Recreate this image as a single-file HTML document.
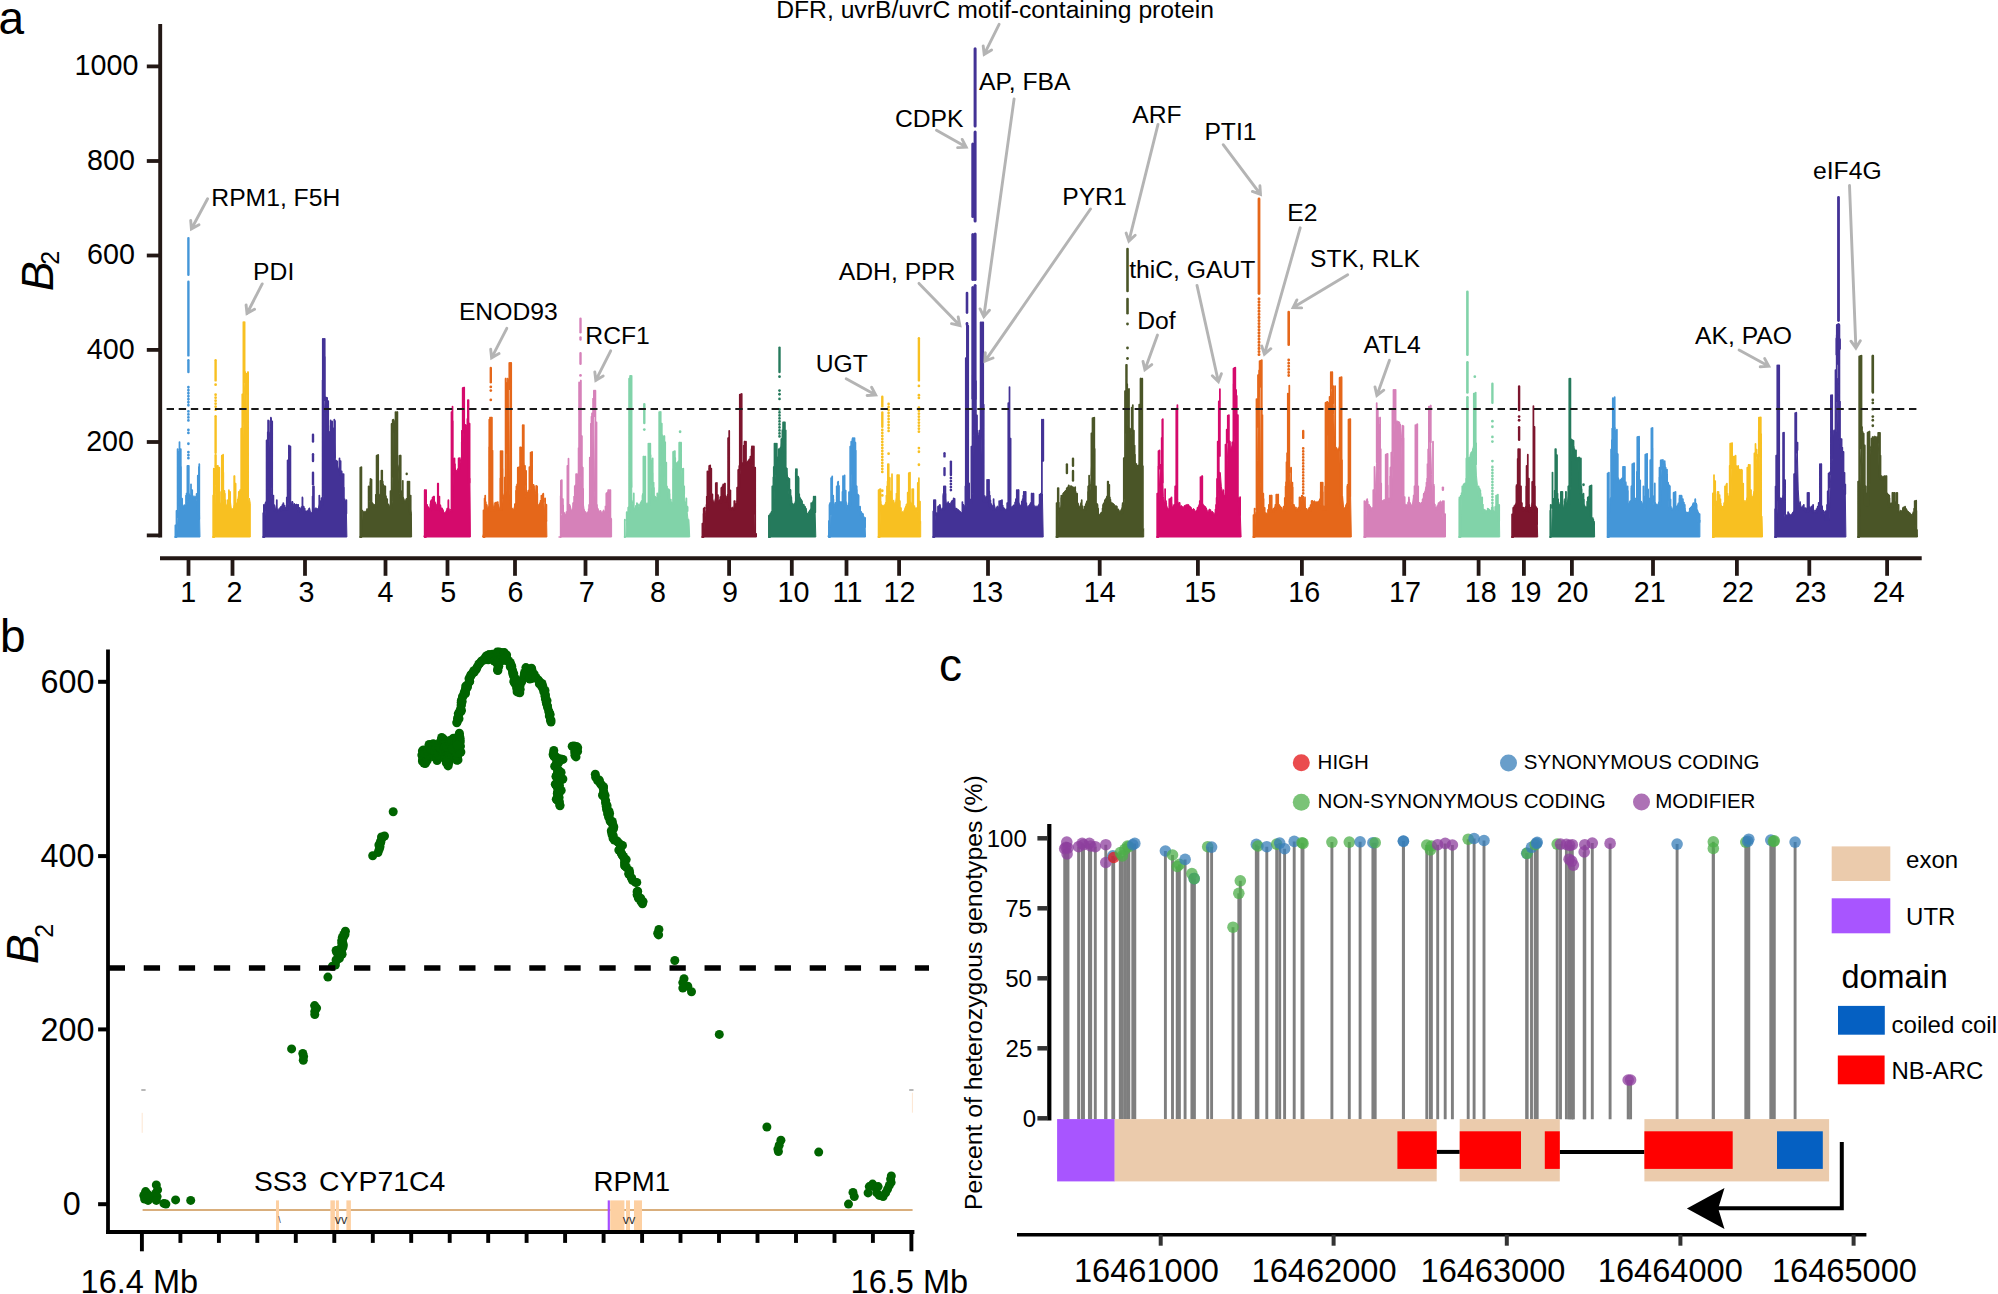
<!DOCTYPE html>
<html lang="en"><head><meta charset="utf-8"><title>Figure</title>
<style>html,body{margin:0;padding:0;background:#fff}svg{display:block}text{font-family:"Liberation Sans", sans-serif}</style>
</head><body>
<svg width="1998" height="1294" viewBox="0 0 1998 1294">
<rect width="1998" height="1294" fill="#fff"/>
<g id="panel-a">
<text x="-1.5" y="34" font-size="46" text-anchor="start" fill="#000">a</text>
<path d="M174.5 537L174.5 537L175.5 537L176.5 537L177.5 525L178.5 503.6L179.5 490.6L180.5 500.7L181.5 503.3L182.5 506.9L183.5 505.7L184.5 505.9L185.5 507.9L186.5 504.2L187.5 500.1L188.5 492.9L189.5 494.3L190.5 495.6L191.5 495.3L192.5 494.6L193.5 496.8L194.5 496.2L195.5 496.2L196.5 497.2L197.5 506.3L198.5 515.1L199.5 513.6L200 537Z" fill="#4496D8" stroke="#4496D8" stroke-width="1" stroke-linejoin="round"/>
<path d="M175.4 525.3V537M176.5 510.8V537M177.6 455.8V517M178.7 451.6V505.3M181 466.7V507.5M182.1 498.6V507.8M184.3 505.2V507.8M186.6 493.3V505.4M187.7 465.9V498.6M188.8 465.9V497.3M191 484.3V498.1M192.2 490V498.2M196.6 493.9V498.2M197.8 475.5V514M198.9 466.8V519M177.6 449.2V517M179.5 442.1V490.4M180.8 449.2V506.5M186 495.5V506.9M187.4 465.9V500.3M188.7 465.9V497.3M199.3 464V519" fill="none" stroke="#4496D8" stroke-width="1.75" stroke-linecap="round"/>
<line x1="188.4" y1="238.1" x2="188.4" y2="274.7" stroke="#4496D8" stroke-width="2.4" stroke-linecap="round"/>
<line x1="188.4" y1="281.7" x2="188.4" y2="355.4" stroke="#4496D8" stroke-width="2.4" stroke-linecap="round"/>
<line x1="188.4" y1="360.2" x2="188.4" y2="372.1" stroke="#4496D8" stroke-width="2.4" stroke-linecap="round"/>
<line x1="188.4" y1="387.2" x2="188.4" y2="407.6" stroke="#4496D8" stroke-width="2.6999999999999997" stroke-linecap="round" stroke-dasharray="0.1 2.9"/>
<line x1="188.4" y1="411.3" x2="188.4" y2="422.4" stroke="#4496D8" stroke-width="2.6999999999999997" stroke-linecap="round" stroke-dasharray="0.1 2.9"/>
<line x1="188.4" y1="429.8" x2="188.4" y2="435.4" stroke="#4496D8" stroke-width="2.6999999999999997" stroke-linecap="round" stroke-dasharray="0.1 2.9"/>
<line x1="188.4" y1="443.7" x2="188.4" y2="444.3" stroke="#4496D8" stroke-width="2.6999999999999997" stroke-linecap="round" stroke-dasharray="0.1 2.9"/>
<line x1="188.4" y1="452.1" x2="188.4" y2="459.5" stroke="#4496D8" stroke-width="2.6999999999999997" stroke-linecap="round" stroke-dasharray="0.1 2.9"/>
<path d="M212.3 537L212.3 537L213.3 537L214.3 531.2L215.3 494.6L216.3 467.2L217.3 468.9L218.3 502.2L219.3 500.6L220.3 503.9L221.3 503.4L222.3 499.8L223.3 498.4L224.3 504.1L225.3 502.6L226.3 506.2L227.3 504L228.3 500.5L229.3 508L230.3 500.6L231.3 508.6L232.3 508.7L233.3 508.8L234.3 505L235.3 509.9L236.3 502.7L237.3 504.4L238.3 496.7L239.3 499.2L240.3 496L241.3 490.7L242.3 472.1L243.3 425.3L244.3 393.1L245.3 371.5L246.3 377.4L247.3 430L248.3 502.7L249.3 498L250.3 503.4L250.3 537Z" fill="#F8C021" stroke="#F8C021" stroke-width="1" stroke-linejoin="round"/>
<path d="M213.2 495.4V537M214.3 469.6V537M215.4 466V484.1M216.6 466V468.7M217.7 465.9V491.3M218.8 468.8V505M219.9 491.8V505M223.3 472.6V498.9M224.4 490.9V505M225.5 500.1V505.7M227.8 500V505.7M228.9 490.2V506.9M230 492.4V510.7M234.5 476.1V510.7M235.6 483.7V510.7M237.8 499.6V504.8M241.2 428.5V492.3M242.3 394.3V476.7M243.4 322.1V421.4M244.6 322.1V382M246.8 373.6V393.5M247.9 372.1V488.7M213.8 468.6V537M215.6 465.9V484.1M217.9 465.9V491.3M219.3 467.7V505M221.8 455.7V505M223.1 454.7V496.4M224.9 493.7V505.7M230.1 491.8V510.7M234.2 476.1V510.7M238.8 491.8V504M240.1 490V498.7M248.1 372.2V497" fill="none" stroke="#F8C021" stroke-width="1.75" stroke-linecap="round"/>
<line x1="215.6" y1="360.2" x2="215.6" y2="380.4" stroke="#F8C021" stroke-width="2.4" stroke-linecap="round"/>
<line x1="215.6" y1="384.6" x2="215.6" y2="385.3" stroke="#F8C021" stroke-width="2.6999999999999997" stroke-linecap="round" stroke-dasharray="0.1 2.9"/>
<line x1="215.6" y1="394.6" x2="215.6" y2="411.3" stroke="#F8C021" stroke-width="2.6999999999999997" stroke-linecap="round" stroke-dasharray="0.1 2.9"/>
<line x1="215.6" y1="416.2" x2="215.6" y2="452.7" stroke="#F8C021" stroke-width="2.4" stroke-linecap="round"/>
<line x1="215.6" y1="455.1" x2="215.6" y2="465.7" stroke="#F8C021" stroke-width="2.4" stroke-linecap="round"/>
<path d="M262.4 537L262.4 537L263.4 537L264.4 537L265.4 503.6L266.4 500.5L267.4 500.5L268.4 470.5L269.4 433.4L270.4 431.4L271.4 493.8L272.4 503L273.4 509.1L274.4 505.7L275.4 510.2L276.4 506.4L277.4 509.9L278.4 509.3L279.4 508.2L280.4 507.1L281.4 506L282.4 508.3L283.4 507.1L284.4 506.8L285.4 507.8L286.4 506.4L287.4 507.6L288.4 503.4L289.4 469.9L290.4 500.4L291.4 505.1L292.4 501L293.4 505.5L294.4 503.3L295.4 504.6L296.4 504L297.4 509.5L298.4 510.5L299.4 507.6L300.4 509.2L301.4 506.5L302.4 508.1L303.4 508.6L304.4 510.9L305.4 510.9L306.4 511.1L307.4 510.3L308.4 510.4L309.4 507.8L310.4 512.1L311.4 512.4L312.4 512.4L313.4 507.8L314.4 509.4L315.4 507.9L316.4 507.9L317.4 509L318.4 508L319.4 504.4L320.4 507L321.4 502.8L322.4 504.1L323.4 496.2L324.4 413.2L325.4 396.7L326.4 409.5L327.4 426.3L328.4 431.6L329.4 432L330.4 430.6L331.4 433.5L332.4 431.1L333.4 435.1L334.4 439.7L335.4 459.7L336.4 460.1L337.4 465.6L338.4 468.9L339.4 469L340.4 472.6L341.4 472.5L342.4 498.6L343.4 498.2L344.4 501.2L345.4 513.7L346.4 512.2L346.9 537Z" fill="#433296" stroke="#433296" stroke-width="1" stroke-linejoin="round"/>
<path d="M263.3 513.1V537M264.4 505.2V537M265.5 503.1V510.1M266.6 440.3V505.2M267.8 432.1V502.2M268.9 420.9V438.8M271.1 418.3V486.8M272.2 431.4V506.2M273.4 495.5V509.3M274.5 505.8V510.6M276.7 504.7V511.5M281.2 507.3V510.4M282.3 505.2V509.1M283.4 503.3V508.3M284.6 505.7V509.8M286.8 497.3V509.8M287.9 460.8V509.8M289 445.6V487.4M290.2 452.8V499.3M292.4 501.9V505.3M296.9 504.9V508.1M298 504.9V511.1M299.1 507.8V511.5M302.5 498V511.2M304.7 508.6V513.3M309.2 508.9V512.6M312.6 496.3V512.3M313.7 486.3V510.7M319.3 495.6V509.9M320.4 501.3V507.5M321.5 498.1V504.8M322.6 380V504.8M323.8 338.8V482.7M324.9 356.6V400M327.1 397.9V427.6M328.2 401.1V431.8M330.5 425.4V431.8M331.6 422.1V435.5M332.7 430.8V435.5M333.8 428.2V435.5M335 420.8V457.4M337.2 461.4V468.9M339.4 460.3V468.9M340.6 461.1V474.9M341.7 471.4V476.4M342.8 474.4V500.6M343.9 487.6V501.1M345 501.1V513.5M346.2 501.1V513.5M263.9 504.8V537M265.7 503V510.1M268.1 420.4V491.4M270.9 417.6V475.2M272.2 421.3V506.2M274.1 504.8V510.6M276.8 500.2V511.5M281.5 506.7V510.2M283.3 503V508.3M287.6 460.3V509.8M288.9 445.5V497.1M290.4 446.4V503M298.2 504.8V511.5M302.4 497.4V511.2M303.7 506.7V511.6M309.3 508.5V512.3M313 486.3V512.3M313.9 486.3V509.9M322.8 338.8V504.8M324.7 338.8V400M326.4 397.6V409.3M330.6 420.4V431.8M332.1 421.3V435.5M334.3 419.5V442.6M339.5 458.4V472.1M341.8 473.3V487.8M343.6 474.2V501M344.5 499.2V507.3M346.4 500.2V513.5" fill="none" stroke="#433296" stroke-width="1.75" stroke-linecap="round"/>
<line x1="313" y1="434.7" x2="313" y2="441.6" stroke="#433296" stroke-width="2.4" stroke-linecap="round"/>
<line x1="313" y1="454.2" x2="313" y2="461.1" stroke="#433296" stroke-width="2.4" stroke-linecap="round"/>
<line x1="313" y1="472.8" x2="313" y2="484.3" stroke="#433296" stroke-width="2.4" stroke-linecap="round"/>
<path d="M359.4 537L359.4 537L360.4 537L361.4 537L362.4 509.9L363.4 511.8L364.4 511.4L365.4 511.4L366.4 510.6L367.4 513.9L368.4 508.6L369.4 503.1L370.4 500.6L371.4 502.2L372.4 502.6L373.4 504.5L374.4 504.5L375.4 504.1L376.4 502.4L377.4 499.2L378.4 495.2L379.4 494.9L380.4 493.3L381.4 492.7L382.4 483.1L383.4 485.4L384.4 495.6L385.4 496.6L386.4 500.3L387.4 508.2L388.4 503.8L389.4 506L390.4 507.4L391.4 507.4L392.4 501.6L393.4 426.8L394.4 421.7L395.4 419.6L396.4 467.5L397.4 463.9L398.4 466.4L399.4 491.3L400.4 496.4L401.4 490.6L402.4 497.8L403.4 497.3L404.4 500.3L405.4 500.6L406.4 498.1L407.4 500.7L408.4 496.4L409.4 507.2L410.4 509.3L411.4 513.4L411.6 537Z" fill="#4A5527" stroke="#4A5527" stroke-width="1" stroke-linejoin="round"/>
<path d="M360.3 471.6V537M361.4 467V537M367 509.1V513.4M370.3 481.9V500.5M371.5 479.5V506.5M372.6 503.8V506.5M375.9 494.5V506.5M377.1 455.4V506.5M378.2 454.8V496.2M380.4 480.9V496.2M381.5 470.5V494.6M382.7 481.3V486.9M383.8 485.6V493.9M384.9 486.5V500.1M386 496.2V504.8M387.1 499.9V507.5M388.3 504.6V508.2M390.5 491V508.2M391.6 423.9V508.2M392.7 419.9V476.7M396.1 412.1V468.1M397.2 412.1V468.4M399.5 455.7V492.6M400.6 455.7V498M401.7 496.9V500.6M402.8 480.8V502.3M408.4 481.6V500.1M410.7 495.8V514.5M360.3 467.7V537M368.6 486.3V511.5M370.5 478.8V504.8M376.6 455.7V506.5M382.2 470.5V487.3M383.1 484.4V487.3M385.3 486.3V501.4M387.2 499.2V507.5M393.3 419.5V432M395.5 412.1V430.6M397.4 412.1V468.4M400.7 455.7V498M407.6 481.6V502.3M409.4 481.6V511.8M410.7 495.5V514.5" fill="none" stroke="#4A5527" stroke-width="1.75" stroke-linecap="round"/>
<line x1="406.7" y1="473.7" x2="406.7" y2="474.1" stroke="#4A5527" stroke-width="2.4" stroke-linecap="round"/>
<path d="M423.9 537L423.9 537L424.9 533.3L425.9 533.8L426.9 509.6L427.9 506.1L428.9 508.7L429.9 508L430.9 505.8L431.9 503L432.9 500.7L433.9 501L434.9 507.6L435.9 507.6L436.9 506.8L437.9 502.6L438.9 505.8L439.9 507.4L440.9 512.1L441.9 507.7L442.9 509.6L443.9 512.4L444.9 513L445.9 511.3L446.9 509.6L447.9 509.2L448.9 508.2L449.9 511.4L450.9 509L451.9 511.1L452.9 489.1L453.9 464.4L454.9 467.8L455.9 469.9L456.9 471.2L457.9 468.5L458.9 467.3L459.9 464L460.9 458.5L461.9 455.4L462.9 458.9L463.9 429.2L464.9 425.2L465.9 424.3L466.9 426.6L467.9 436.5L468.9 481.7L469.9 478.5L470.4 537Z" fill="#D50A6C" stroke="#D50A6C" stroke-width="1" stroke-linejoin="round"/>
<path d="M424.8 490V537M425.9 490V537M427 505.7V510.7M428.2 507.8V510.7M430.4 504.2V510.7M431.5 500.2V510.1M433.8 496.7V504.9M434.9 502.2V508.8M436 504.7V509.5M438.2 483.5V509.5M439.4 496.6V508.7M440.5 505.8V510.7M441.6 508.5V512.1M442.7 510V512.8M447.2 508.7V513.4M448.3 500.6V512.4M452.8 421.1V492.5M455 464.1V470.8M459.5 458.1V469.3M461.8 442.1V459.2M462.9 387.9V458.5M464 387.7V432.7M467.4 418.9V426.3M468.5 400V482.4M469.6 423.7V482.4M424.7 490V537M426.1 490V516.8M427.1 504.8V510.7M430.8 501.1V510.7M432.6 497.4V503.3M434.1 496.5V506.5M435.4 503V509.5M437.8 483.5V509.5M440 504.8V510.2M448.4 500.2V512.4M451.5 412.1V512M452.5 406.5V508.9M454.5 458.4V470.5M458.6 458.4V470.8M461.9 430.6V459.1M462.7 388V458.8M464.2 387.6V426.3M467.9 400V438.5" fill="none" stroke="#D50A6C" stroke-width="1.75" stroke-linecap="round"/>
<path d="M482.6 537L482.6 537L483.6 533.6L484.6 537L485.6 505.4L486.6 505.7L487.6 509.3L488.6 506.5L489.6 511.2L490.6 501.8L491.6 509.9L492.6 501.6L493.6 508.5L494.6 508.5L495.6 505.5L496.6 503.7L497.6 508.3L498.6 505.7L499.6 508.8L500.6 508.4L501.6 510.3L502.6 493.2L503.6 496.2L504.6 495.8L505.6 492.9L506.6 490.8L507.6 377.9L508.6 379.3L509.6 490.9L510.6 502.1L511.6 508.4L512.6 508.2L513.6 509.9L514.6 505.8L515.6 505.2L516.6 505.3L517.6 493.1L518.6 483.4L519.6 471.9L520.6 466.3L521.6 458.7L522.6 451.2L523.6 462.4L524.6 471.5L525.6 496.8L526.6 496.3L527.6 497.3L528.6 497.1L529.6 493.2L530.6 485.6L531.6 480.5L532.6 485.5L533.6 484L534.6 487.1L535.6 493.3L536.6 498.1L537.6 506.3L538.6 504.5L539.6 503.3L540.6 501.8L541.6 504.2L542.6 496.3L543.6 500.5L544.6 511.9L545.6 520.7L546.6 520L546.9 537Z" fill="#E5671A" stroke="#E5671A" stroke-width="1" stroke-linejoin="round"/>
<path d="M483.5 510.3V537M484.6 498.4V537M485.8 502.1V509.5M486.9 505.4V511M489.1 446.8V511M490.2 417.6V511M491.4 417.6V510.3M492.5 450.7V510.5M494.7 506.1V510.5M495.8 502.7V510.1M497 502.4V508.6M498.1 504.4V509.8M500.3 478.3V509.8M501.4 451V509.8M502.6 468.6V498.2M504.8 477.3V498.2M505.9 378.7V498.2M507 383.2V452.8M509.3 362.9V389.2M510.4 362.9V504.1M514.9 504.1V509.9M516 490.7V509M517.1 484.3V503.1M518.2 470.3V491.4M519.4 467.6V479.1M520.5 447.3V468.6M521.6 447.6V460.7M522.7 425.1V454.8M523.8 425.1V467.5M525 465.9V484.6M526.1 470.9V498M527.2 492.5V498M528.3 490.7V498M529.4 467.2V498M530.6 452.5V487M531.7 452.1V486M536.2 485.8V504.3M537.3 493.5V506.5M540.6 500.7V506.5M541.8 496.3V504.6M542.9 494.2V500.2M546.2 504.6V521.1M485.2 495.5V520.4M486.7 504.8V511M489.3 419.5V511M490 417.6V511M491.9 417.6V510.5M495 503V510.5M497.8 502V509.8M500.6 451V509.8M502.5 451V498.2M505.6 378.7V498.2M511.2 362.9V509M516.4 486.3V508.1M517.8 467.7V494.8M519.3 466.8V479.1M520.1 447.3V468.7M521.9 447.3V454.1M532.1 451.9V486.2M537.1 486.3V506.5M541.4 495.5V505.8M543.3 493.7V501.8M545.1 498.3V521.1M546.4 504.8V521.1" fill="none" stroke="#E5671A" stroke-width="1.75" stroke-linecap="round"/>
<line x1="490.8" y1="368" x2="490.8" y2="382.3" stroke="#E5671A" stroke-width="2.4" stroke-linecap="round"/>
<line x1="490.8" y1="386.8" x2="490.8" y2="387.5" stroke="#E5671A" stroke-width="2.6999999999999997" stroke-linecap="round" stroke-dasharray="0.1 2.9"/>
<line x1="490.8" y1="390.5" x2="490.8" y2="391.2" stroke="#E5671A" stroke-width="2.6999999999999997" stroke-linecap="round" stroke-dasharray="0.1 2.9"/>
<line x1="490.8" y1="399.8" x2="490.8" y2="401.1" stroke="#E5671A" stroke-width="2.6999999999999997" stroke-linecap="round" stroke-dasharray="0.1 2.9"/>
<path d="M558.6 537L558.6 537L559.6 537L560.6 537L561.6 515.4L562.6 514.6L563.6 514.4L564.6 513L565.6 514.7L566.6 513.4L567.6 512.6L568.6 508.1L569.6 504.6L570.6 507.1L571.6 511.3L572.6 508.7L573.6 510.2L574.6 505.1L575.6 499L576.6 482.8L577.6 479.7L578.6 471.1L579.6 472.4L580.6 466.1L581.6 507.1L582.6 513L583.6 505.7L584.6 513.4L585.6 511.4L586.6 513.6L587.6 511.7L588.6 513.1L589.6 507.9L590.6 505.6L591.6 476.6L592.6 413.3L593.6 417.1L594.6 492.2L595.6 505.6L596.6 506.9L597.6 507.7L598.6 509.7L599.6 511.7L600.6 510.2L601.6 512.8L602.6 512L603.6 509.8L604.6 511.7L605.6 511.6L606.6 508.1L607.6 499.9L608.6 499.7L609.6 520.6L610.6 517.5L611.6 518.8L611.6 537Z" fill="#D681B9" stroke="#D681B9" stroke-width="1" stroke-linejoin="round"/>
<path d="M560.7 495.8V537M561.8 480.1V512.9M562.9 499.1V515.3M564 512.5V515.3M567.4 465.9V514.7M568.5 458.7V513.5M569.6 505.9V511.5M573 505.5V511.5M574.1 496.5V510.6M575.2 485.7V504.1M576.3 474.1V494.3M577.5 474.3V484.8M578.6 448V475.1M579.7 384.9V474.7M580.8 380.6V475.9M581.9 436.1V509.5M583.1 488.6V513.4M584.2 510V513.4M588.7 509.1V513.4M589.8 457.5V513.3M590.9 423.5V507.8M592 413.4V423.2M593.1 398.6V418.1M594.3 390.7V413.2M595.4 390.7V508.2M596.5 422.3V511.7M605.5 506.3V511.9M606.6 493V511.4M607.7 492.1V504.7M608.8 490V510.3M609.9 490V520.8M560.9 480.7V529.3M563.1 504.8V515.3M566.4 512.2V515.3M569.4 504.8V510.9M573.1 503V511.5M574.8 486.3V506.1M576.1 474.2V497.7M579.1 382.4V474.9M580.9 380.5V475.9M582.8 467.7V513M589.1 504.8V513.4M591.5 416.7V498.1M593.9 390.7V416M597 504.8V511.9M606.3 493.7V511.6M608.2 490V497.7M610.4 490V520.8" fill="none" stroke="#D681B9" stroke-width="1.75" stroke-linecap="round"/>
<line x1="580.5" y1="318.8" x2="580.5" y2="332.2" stroke="#D681B9" stroke-width="2.4" stroke-linecap="round"/>
<line x1="580.5" y1="337.4" x2="580.5" y2="339.6" stroke="#D681B9" stroke-width="2.4" stroke-linecap="round"/>
<line x1="580.5" y1="353.1" x2="580.5" y2="363.7" stroke="#D681B9" stroke-width="2.4" stroke-linecap="round"/>
<line x1="580.5" y1="375.3" x2="580.5" y2="376" stroke="#D681B9" stroke-width="2.6999999999999997" stroke-linecap="round" stroke-dasharray="0.1 2.9"/>
<path d="M623.9 537L623.9 537L624.9 537L625.9 537L626.9 515.2L627.9 516.5L628.9 513.6L629.9 508.3L630.9 444.7L631.9 499.3L632.9 504.6L633.9 509L634.9 507.7L635.9 505.3L636.9 508.4L637.9 507.4L638.9 503.8L639.9 506.4L640.9 501.9L641.9 500.9L642.9 503.1L643.9 500.3L644.9 500.8L645.9 502.8L646.9 503.7L647.9 502.8L648.9 502.2L649.9 501.5L650.9 470.2L651.9 487.9L652.9 495.1L653.9 495.1L654.9 499.2L655.9 499.2L656.9 496.9L657.9 497L658.9 493.5L659.9 481.8L660.9 438.4L661.9 434.4L662.9 436.9L663.9 435.6L664.9 484.5L665.9 483.9L666.9 487.9L667.9 492.2L668.9 497.9L669.9 504L670.9 502.3L671.9 501.9L672.9 504.1L673.9 499L674.9 467.8L675.9 463.2L676.9 462.5L677.9 461.8L678.9 460.8L679.9 465L680.9 468.2L681.9 486.3L682.9 487.7L683.9 489.2L684.9 500.8L685.9 503.8L686.9 509.6L687.9 518.9L688.9 519.4L689.7 537Z" fill="#81D3A9" stroke="#81D3A9" stroke-width="1" stroke-linejoin="round"/>
<path d="M624.8 519.7V537M627.1 512.6V519.9M628.2 507.6V516.3M629.3 393V512.3M630.4 375.9V507.1M631.6 375.9V486.9M633.8 493.4V509.7M636 506.3V509.7M637.2 503.6V509.5M640.5 503.3V505.9M641.6 501V505.1M642.8 493.9V504.1M643.9 456.6V504.8M645 456.6V504.8M648.4 443.6V504.8M649.5 443.6V504.8M650.6 455V459.8M651.7 460.8V484.7M652.8 472.8V496M654 487.8V500.2M655.1 496.5V500.7M657.3 493.3V500.7M659.6 412V494.1M660.7 411.8V465M661.8 423.6V438.3M664 436.5V443.3M665.2 442.1V487.8M666.3 462.5V489.3M668.5 489.2V499.1M669.6 493.8V503.6M670.8 499.6V504M673 468.5V504M674.1 451.4V504M675.2 457.9V465.2M678.6 461.1V464.7M679.7 442.7V465.1M680.8 442.7V469.6M682 468.9V485.9M683.1 470.3V489.4M684.2 486.7V494.1M686.4 498.4V508.8M687.6 507.1V511M626.7 512.2V520.7M629.1 378.7V513M630.1 375.9V510.2M636.9 503V509.7M640.6 503V505.9M642.5 495.5V504.3M643.4 456.6V502.7M645.3 456.6V504.8M648.4 443.6V504.8M650.3 443.6V482.1M650.8 458.4V471M652.7 458.4V494.3M653.6 482.6V499.6M659.2 412.1V496.9M664.4 436.2V475.8M667 486.3V490.5M669.4 490V503.2M673.1 451.9V504M674.9 451V468M679.2 442.7V464.3M681.1 442.7V469.6M683.3 468.6V489.4M684.2 486.3V494.1M687.4 506.7V511" fill="none" stroke="#81D3A9" stroke-width="1.75" stroke-linecap="round"/>
<line x1="644.3" y1="404.1" x2="644.3" y2="423.1" stroke="#81D3A9" stroke-width="2.4" stroke-linecap="round"/>
<line x1="644.3" y1="429.5" x2="644.3" y2="430.2" stroke="#81D3A9" stroke-width="2.6999999999999997" stroke-linecap="round" stroke-dasharray="0.1 2.9"/>
<line x1="680.1" y1="431.7" x2="680.1" y2="432.4" stroke="#81D3A9" stroke-width="2.6999999999999997" stroke-linecap="round" stroke-dasharray="0.1 2.9"/>
<path d="M701.5 537L701.5 537L702.5 537L703.5 537L704.5 521.4L705.5 512.6L706.5 508L707.5 503.5L708.5 500.7L709.5 474.6L710.5 490.8L711.5 499.6L712.5 498.9L713.5 501.5L714.5 502.5L715.5 498L716.5 500.6L717.5 500.8L718.5 501.1L719.5 499.6L720.5 501L721.5 497.6L722.5 495.6L723.5 487L724.5 497L725.5 497.8L726.5 499.2L727.5 494L728.5 497.2L729.5 506.5L730.5 507.8L731.5 507.8L732.5 507L733.5 509.2L734.5 504.8L735.5 503.7L736.5 502.5L737.5 499.2L738.5 488.1L739.5 484L740.5 465.5L741.5 462.2L742.5 462.8L743.5 462.8L744.5 464L745.5 461.4L746.5 463L747.5 461L748.5 460.1L749.5 461L750.5 460.5L751.5 459.7L752.5 453.2L753.5 481.6L754.5 533.5L755.5 533.5L756.5 533.5L756.5 537Z" fill="#7D152D" stroke="#7D152D" stroke-width="1" stroke-linejoin="round"/>
<path d="M702.4 523.6V537M703.5 513.7V537M704.6 507.6V521.2M706.8 496.5V508M708 474.1V506.7M709.1 468V496.6M710.2 465.4V492.3M711.3 468.6V500.7M712.4 494.3V502.2M715.8 483.2V502.2M716.9 482.8V503.1M718 495.2V503.1M720.3 497.2V503.1M721.4 487.8V501.6M722.5 486.2V496.5M723.6 484.6V494.9M724.8 483.6V501.4M725.9 496.5V501.4M728.1 438.1V501.4M729.2 430.8V508.2M730.4 490.3V509.8M734.8 501V507.8M737.1 487.7V501.4M738.2 469.9V495.2M739.3 466V487M740.4 394.3V468.3M741.6 394V464.8M743.8 445.6V464.8M744.9 441.7V460M746 441.7V463.2M749.4 459.4V463M750.5 457.1V462.1M751.6 449.1V459.8M752.8 446.4V464M753.9 446.4V513.7M703.7 508.5V529.3M706.5 504.8V508.7M707.4 471.4V507.3M709.2 465.9V484.6M721.3 488.1V502.3M723.2 484.4V490.2M725 483.5V501.4M734.3 501.1V509.4M739.3 465.9V487M739.8 394.5V470.3M741.7 393.9V464.8M744.5 441.7V464.8M749.1 460.3V463.2M750.4 456.6V462.1M751.9 446.4V459.1M755.2 467.7V535.5" fill="none" stroke="#7D152D" stroke-width="1.75" stroke-linecap="round"/>
<path d="M768 537L768 537L769 537L770 537L771 513.4L772 511.7L773 509.6L774 499.5L775 480L776 458L777 456.7L778 458.6L779 452.7L780 459L781 447.6L782 438.2L783 442.9L784 425.8L785 474L786 467.4L787 473.8L788 485.8L789 494.6L790 500L791 495.5L792 503.2L793 504L794 504.2L795 502.4L796 499.3L797 487.8L798 497.8L799 498.8L800 501.3L801 499.1L802 502.2L803 507L804 507.4L805 506.4L806 508.4L807 513.4L808 513.8L809 511.2L810 510.3L811 508.4L812 509.1L813 502.5L814 508.6L815 508.7L815.8 537Z" fill="#257A5C" stroke="#257A5C" stroke-width="1" stroke-linejoin="round"/>
<path d="M768.9 515.7V537M770.1 514.1V537M771.2 512.7V516.2M772.3 488.6V514.9M773.4 477.3V512.6M774.5 443.6V487M775.7 443.6V474M776.8 443.6V459.5M779 449.3V459.5M780.1 448.6V459.3M781.3 439.2V449.9M782.4 430.1V448.9M783.5 422.3V431.5M784.6 422.3V456.4M785.7 430.3V477.4M786.9 468.5V479.1M788 477.6V489.4M790.2 489.7V503.7M791.3 497.6V506.3M795.8 472.3V505.8M796.9 469.2V490.6M798.1 476.5V499.1M799.2 494.1V501.1M800.3 498.3V502.9M801.4 500.4V505.4M803.7 504.7V509.4M804.8 506.7V511.7M805.9 508.8V512.4M810.4 510.1V513.4M811.5 503.8V513.4M812.6 502.6V509.9M813.7 496.5V512.2M814.9 496.5V512.2M771.4 512.2V516.2M772.3 486.3V514.9M773.8 466.8V508.3M774.5 443.6V487M778.8 449.2V459.5M780.6 447.3V454.8M783.1 422.3V445.3M784.9 422.3V475.8M787.1 475.1V479.5M789.4 478.8V498M790.5 490V504.7M795.9 469.2V505.8M798.6 477.9V499.9M799.7 497.4V502M802 501.1V506.4M803.8 504.8V509.9M811.2 503V513.4M813.1 501.1V506.2M815.3 496.5V512.2" fill="none" stroke="#257A5C" stroke-width="1.75" stroke-linecap="round"/>
<line x1="779.5" y1="347.6" x2="779.5" y2="372.1" stroke="#257A5C" stroke-width="2.4" stroke-linecap="round"/>
<line x1="779.5" y1="376.6" x2="779.5" y2="377.3" stroke="#257A5C" stroke-width="2.6999999999999997" stroke-linecap="round" stroke-dasharray="0.1 2.9"/>
<line x1="779.5" y1="390.5" x2="779.5" y2="391.2" stroke="#257A5C" stroke-width="2.6999999999999997" stroke-linecap="round" stroke-dasharray="0.1 2.9"/>
<line x1="779.5" y1="394.2" x2="779.5" y2="395" stroke="#257A5C" stroke-width="2.6999999999999997" stroke-linecap="round" stroke-dasharray="0.1 2.9"/>
<line x1="779.5" y1="398.9" x2="779.5" y2="399.6" stroke="#257A5C" stroke-width="2.6999999999999997" stroke-linecap="round" stroke-dasharray="0.1 2.9"/>
<line x1="779.5" y1="409.4" x2="779.5" y2="437.2" stroke="#257A5C" stroke-width="2.6999999999999997" stroke-linecap="round" stroke-dasharray="0.1 2.9"/>
<path d="M828 537L828 537L829 531.9L830 537L831 518L832 502.4L833 500.6L834 503.1L835 506.5L836 502.6L837 501.8L838 497.4L839 501.8L840 501.2L841 502.3L842 501.4L843 502.3L844 494L845 505.5L846 501.6L847 507.7L848 508.3L849 504.4L850 503.3L851 490.3L852 442.5L853 440L854 445L855 490.3L856 493.7L857 497.5L858 508.1L859 507.6L860 511.6L861 510.9L862 513.6L863 513.5L864 522.9L865 523.1L865.5 537Z" fill="#4496D8" stroke="#4496D8" stroke-width="1" stroke-linejoin="round"/>
<path d="M828.9 520.8V537M830 503V537M831.1 478.1V514.2M832.2 476.3V504.7M833.4 499.3V506.5M835.6 502.8V506.5M836.7 486.3V506.5M837.8 482.3V500.4M839 485.8V504.8M843.4 477.6V502.1M844.6 475.3V506.2M845.7 490.6V509.7M847.9 505.3V509.7M849 492.1V509.7M850.2 446.5V505.4M851.3 442.3V473.7M852.4 439.1V443.7M853.5 438.1V444.6M854.6 444.8V487.5M855.8 450.5V494.8M856.9 489.6V501.9M858 494.6V507.8M861.4 512.5V516.3M862.5 514.3V518M863.6 516.7V527.1M864.7 518.3V527.1M829.5 504.8V537M833.2 495.5V506.5M838.2 481.6V502.2M842.5 491.8V504.8M843 476.1V504.3M848.6 503V509.7M851.2 441.7V473.7M852.7 438V443.4M854.5 438V462.8M855.4 442.7V493.5M856.7 486.3V498.9M858.6 495.5V509.9M860.1 506.7V514.6M862.9 514.1V518.4M865.1 517.8V527.1" fill="none" stroke="#4496D8" stroke-width="1.75" stroke-linecap="round"/>
<path d="M877.7 537L877.7 537L878.7 537L879.7 534L880.7 504.5L881.7 505L882.7 505.5L883.7 505.4L884.7 505.9L885.7 502.2L886.7 503.5L887.7 498.9L888.7 494.6L889.7 496L890.7 492.5L891.7 496.9L892.7 502L893.7 499.9L894.7 505L895.7 501.6L896.7 496.7L897.7 499.6L898.7 503.9L899.7 508.8L900.7 513.3L901.7 512.4L902.7 511.4L903.7 512.5L904.7 509.2L905.7 506.2L906.7 510.4L907.7 503.5L908.7 505.1L909.7 506.2L910.7 501.7L911.7 504L912.7 505.2L913.7 506.6L914.7 507.7L915.7 507.9L916.7 507.8L917.7 507.9L918.7 522.1L919.7 521.7L920.7 521.2L920.7 537Z" fill="#F8C021" stroke="#F8C021" stroke-width="1" stroke-linejoin="round"/>
<path d="M879.7 489.4V537M880.8 501.7V507.5M885.3 505V507.8M886.4 495.6V506.7M887.6 481.4V505.4M888.7 464V496.5M889.8 477.9V496.5M890.9 491.7V496.5M892 474.9V499M896.5 493.5V504.8M897.6 475.1V503.6M898.8 475.1V507.5M901 508.1V513.4M904.4 510.8V513.4M905.5 508.2V512.7M906.6 504.3V511.2M907.7 492.5V508.2M908.8 473V505.8M910 472.5V506.3M912.2 489V506.3M913.3 489V509.9M914.4 506.1V509.9M917.8 482.9V509.9M918.9 478.2V523.2M920 501.6V523.2M878.6 490V537M880.5 489V507M881.4 504.8V507.8M885.1 504.8V507.8M887 486.3V506.2M887.9 464V502.3M892 474.2V499M897.2 475.1V504.8M899 475.1V508.8M899.9 501.1V512.5M904.6 510.4V513.4M906.4 504.8V511.7" fill="none" stroke="#F8C021" stroke-width="1.75" stroke-linecap="round"/>
<line x1="882.3" y1="396.7" x2="882.3" y2="406.4" stroke="#F8C021" stroke-width="2.4" stroke-linecap="round"/>
<line x1="882.3" y1="412.5" x2="882.3" y2="426.8" stroke="#F8C021" stroke-width="2.4" stroke-linecap="round"/>
<line x1="882.3" y1="429.8" x2="882.3" y2="474.3" stroke="#F8C021" stroke-width="2.6999999999999997" stroke-linecap="round" stroke-dasharray="0.1 2.9"/>
<line x1="882.3" y1="490.7" x2="882.3" y2="491.4" stroke="#F8C021" stroke-width="2.6999999999999997" stroke-linecap="round" stroke-dasharray="0.1 2.9"/>
<line x1="882.3" y1="495.3" x2="882.3" y2="496" stroke="#F8C021" stroke-width="2.6999999999999997" stroke-linecap="round" stroke-dasharray="0.1 2.9"/>
<line x1="888.6" y1="403.9" x2="888.6" y2="433.5" stroke="#F8C021" stroke-width="2.6999999999999997" stroke-linecap="round" stroke-dasharray="0.1 2.9"/>
<line x1="888.6" y1="453.6" x2="888.6" y2="454.3" stroke="#F8C021" stroke-width="2.6999999999999997" stroke-linecap="round" stroke-dasharray="0.1 2.9"/>
<line x1="918.9" y1="338.3" x2="918.9" y2="380.4" stroke="#F8C021" stroke-width="2.4" stroke-linecap="round"/>
<line x1="918.9" y1="385.9" x2="918.9" y2="386.6" stroke="#F8C021" stroke-width="2.6999999999999997" stroke-linecap="round" stroke-dasharray="0.1 2.9"/>
<line x1="918.9" y1="395.1" x2="918.9" y2="395.9" stroke="#F8C021" stroke-width="2.6999999999999997" stroke-linecap="round" stroke-dasharray="0.1 2.9"/>
<line x1="918.9" y1="397.9" x2="918.9" y2="398.7" stroke="#F8C021" stroke-width="2.6999999999999997" stroke-linecap="round" stroke-dasharray="0.1 2.9"/>
<line x1="918.9" y1="407.6" x2="918.9" y2="431.7" stroke="#F8C021" stroke-width="2.6999999999999997" stroke-linecap="round" stroke-dasharray="0.1 2.9"/>
<line x1="918.9" y1="448" x2="918.9" y2="448.7" stroke="#F8C021" stroke-width="2.6999999999999997" stroke-linecap="round" stroke-dasharray="0.1 2.9"/>
<line x1="918.9" y1="451.7" x2="918.9" y2="452.4" stroke="#F8C021" stroke-width="2.6999999999999997" stroke-linecap="round" stroke-dasharray="0.1 2.9"/>
<line x1="918.9" y1="464.7" x2="918.9" y2="467.3" stroke="#F8C021" stroke-width="2.6999999999999997" stroke-linecap="round" stroke-dasharray="0.1 2.9"/>
<path d="M932.4 537L932.4 537L933.4 537L934.4 537L935.4 511.5L936.4 513.1L937.4 512.8L938.4 514.4L939.4 507.9L940.4 506.7L941.4 509.8L942.4 507.8L943.4 509.9L944.4 507L945.4 498.2L946.4 504L947.4 502.7L948.4 504.7L949.4 503.1L950.4 505.3L951.4 501.2L952.4 503.1L953.4 503L954.4 505.2L955.4 509.2L956.4 509.8L957.4 512.7L958.4 509.6L959.4 510.8L960.4 511.4L961.4 512.5L962.4 513.2L963.4 504L964.4 506.4L965.4 508.8L966.4 505.5L967.4 491.5L968.4 499.2L969.4 504.2L970.4 501.5L971.4 502.8L972.4 490.3L973.4 435.4L974.4 393.9L975.4 428.4L976.4 432.9L977.4 435.5L978.4 435.4L979.4 435.5L980.4 433.2L981.4 431.4L982.4 471.6L983.4 497.1L984.4 497L985.4 501.6L986.4 496.1L987.4 500.4L988.4 497.2L989.4 498.9L990.4 502.8L991.4 503.8L992.4 506.1L993.4 505.5L994.4 504.8L995.4 508.7L996.4 508.7L997.4 505.8L998.4 508.4L999.4 505.7L1000.4 503.9L1001.4 506.1L1002.4 506.8L1003.4 507.5L1004.4 507.9L1005.4 509.5L1006.4 509.6L1007.4 507.9L1008.4 504.2L1009.4 494.3L1010.4 505.3L1011.4 507.5L1012.4 506.1L1013.4 505.3L1014.4 506.8L1015.4 506.5L1016.4 503.5L1017.4 506.5L1018.4 501.8L1019.4 504L1020.4 505.3L1021.4 505.2L1022.4 499.2L1023.4 498L1024.4 504L1025.4 506.7L1026.4 504.1L1027.4 507.3L1028.4 506.1L1029.4 504.7L1030.4 503.3L1031.4 502.8L1032.4 504.1L1033.4 504L1034.4 506.2L1035.4 506.2L1036.4 506.2L1037.4 506.2L1038.4 506.2L1039.4 503.4L1040.4 505.9L1041.4 496.6L1042.4 494L1043.2 537Z" fill="#433296" stroke="#433296" stroke-width="1" stroke-linejoin="round"/>
<path d="M933.3 511.3V537M934.4 500.2V537M935.5 506.5V515.3M938.9 506.2V513.9M940 505.1V509.6M943.4 493.9V509.7M944.5 486.3V508.5M945.6 493.7V503M951.2 502.8V505.8M952.3 500.8V505.2M953.5 499V503.2M954.6 498.8V509.9M956.8 508.9V512.1M957.9 510.1V513.1M962.4 502.4V513.4M963.5 505.7V509.2M965.8 358.1V508.4M966.9 325.8V502.4M968 325.8V504M969.1 483.3V504M970.3 499.7V504M971.4 446.5V504M972.5 400V492.2M973.6 375V426.5M974.7 375V403.4M975.9 381.2V434.9M977 415.4V437.4M979.2 432.9V437.4M981.5 322.3V432.4M982.6 322.3V487.6M983.7 404.7V501.4M984.8 496.2V501.4M985.9 498V501.4M987.1 479.8V501.4M988.2 479.8V498.8M989.3 491.4V505.8M990.4 500.4V508.1M991.5 505.5V508.2M993.8 502.9V509.8M997.1 507.3V509.8M1000.5 500.8V505.1M1001.6 500.3V509.8M1002.7 505.6V509.9M1007.2 503V509.9M1008.3 403.2V509.9M1009.5 387V498.8M1010.6 438.6V508.2M1013.9 505.3V508.2M1015.1 502.4V507.6M1016.2 499V505.9M1017.3 490V506M1018.4 490V506.5M1021.8 501.6V506.4M1024 491.8V502.6M1025.1 491.8V506.7M1026.3 503V507.4M1030.7 503.3V507.7M1031.9 493.7V505.7M1033 493.7V508.2M1038.6 505.4V508.2M1039.7 495.6V508.2M1041.9 419.5V495.6M933.9 500.2V537M935.4 500.2V515.3M938 506.7V515.3M939.8 504.8V509.6M943.2 495.5V509.7M943.9 486.3V509.7M945.4 486.3V502.8M948.2 502V505.8M951.9 501.1V505.8M953.7 498.3V502.7M956.5 508.5V511.6M962.4 502V513.4M965.4 486.3V508.4M968.2 325.8V504M972.8 375V463.4M977.3 430.6V437.4M979.5 430.6V437.4M980.6 322.3V436.1M983.2 322.3V501.1M987.1 479.8V501.4M989 479.8V503.5M989.9 495.5V507.3M993.6 499.2V509.8M999.2 501.1V508.3M1002 500.2V509.9M1015.9 499.2V506.5M1016.8 490V503.9M1018.6 490V506.5M1023.3 495.5V504.1M1023.8 491.8V502.6M1025.7 491.8V507M1030.7 503V507.7M1031.6 493.7V506.2M1033.5 493.7V508.2M1039.6 494.6V508.2M1040.9 493.7V504.7M1043.3 419.5V460.8" fill="none" stroke="#433296" stroke-width="1.75" stroke-linecap="round"/>
<line x1="944.5" y1="453.3" x2="944.5" y2="456.4" stroke="#433296" stroke-width="2.4" stroke-linecap="round"/>
<line x1="944.5" y1="468.1" x2="944.5" y2="475" stroke="#433296" stroke-width="2.4" stroke-linecap="round"/>
<line x1="950.9" y1="461.6" x2="950.9" y2="475" stroke="#433296" stroke-width="2.4" stroke-linecap="round"/>
<line x1="950.9" y1="478" x2="950.9" y2="491" stroke="#433296" stroke-width="2.6999999999999997" stroke-linecap="round" stroke-dasharray="0.1 2.9"/>
<line x1="967" y1="293" x2="967" y2="312.6" stroke="#433296" stroke-width="2.6" stroke-linecap="round"/>
<line x1="967" y1="323.2" x2="967" y2="324.7" stroke="#433296" stroke-width="2.6" stroke-linecap="round"/>
<path d="M1055.7 537L1055.7 537L1056.7 537L1057.7 537L1058.7 507.7L1059.7 508L1060.7 507.7L1061.7 503.5L1062.7 496.2L1063.7 492.3L1064.7 491.5L1065.7 493.8L1066.7 493.2L1067.7 488.6L1068.7 487.4L1069.7 488.2L1070.7 485.7L1071.7 487.1L1072.7 486.7L1073.7 487.1L1074.7 489.8L1075.7 501.2L1076.7 502.4L1077.7 502.6L1078.7 505.9L1079.7 506.9L1080.7 503.4L1081.7 505.6L1082.7 509.3L1083.7 509.2L1084.7 508.6L1085.7 509.3L1086.7 505.6L1087.7 505.5L1088.7 498.9L1089.7 493.7L1090.7 483.1L1091.7 462L1092.7 442.2L1093.7 478.6L1094.7 497L1095.7 505.6L1096.7 508.2L1097.7 513.3L1098.7 513.5L1099.7 514.5L1100.7 513L1101.7 513.1L1102.7 511.3L1103.7 507.7L1104.7 506.1L1105.7 501.1L1106.7 497L1107.7 497.5L1108.7 500.6L1109.7 502.6L1110.7 502.2L1111.7 502.4L1112.7 503.1L1113.7 503.7L1114.7 504.9L1115.7 507L1116.7 511.6L1117.7 512.6L1118.7 509.6L1119.7 511.5L1120.7 510.4L1121.7 508.8L1122.7 505.9L1123.7 506L1124.7 502.2L1125.7 452L1126.7 387.6L1127.7 423.9L1128.7 431.5L1129.7 427.8L1130.7 429.1L1131.7 431L1132.7 444.7L1133.7 459.4L1134.7 461.3L1135.7 464.1L1136.7 466.7L1137.7 465.9L1138.7 464.7L1139.7 469.1L1140.7 446.3L1141.7 530.5L1142.7 529.9L1143.7 528.7L1143.7 537Z" fill="#4A5527" stroke="#4A5527" stroke-width="1" stroke-linejoin="round"/>
<path d="M1056.6 503V537M1057.8 488.1V537M1058.9 502.6V508.2M1061.1 497.8V508.2M1062.2 496V506.1M1063.4 493.9V497.5M1064.5 492.5V495.5M1065.6 490.9V494.5M1066.7 488.6V493.3M1067.8 487.3V491.6M1069 485.7V489.1M1071.2 486.4V489.2M1074.6 487.8V494.2M1075.7 491.9V502.5M1076.8 494.5V507.6M1077.9 503.3V507.8M1081.3 502.5V509.6M1082.4 506V509.8M1084.6 506.5V509.8M1085.8 504.3V509.5M1086.9 501.3V506.9M1088 491.7V504.9M1089.1 475.6V500.2M1091.4 433.3V475.7M1092.5 418.2V447.7M1093.6 417.9V480.1M1094.7 448.9V501.5M1095.8 487V507.7M1097 503.8V513.4M1098.1 508.4V515.2M1101.4 512.5V515.3M1102.6 508.3V515.2M1103.7 503.3V512.6M1104.8 500.8V507.9M1105.9 498.9V503.6M1107 496.3V501.2M1108.2 481.6V499.9M1109.3 484.8V503.6M1110.4 499.7V504.9M1116 506V510M1118.2 509.3V513.4M1121.6 509.7V513.4M1122.7 503.1V512.4M1123.8 458V509.5M1125 391.2V498.3M1126.1 364.8V432.7M1127.2 384V406.3M1128.3 393.2V431.7M1131.7 407.6V431.7M1132.8 405.1V450.1M1133.9 430.7V464.2M1135 454.5V466.4M1136.2 464V468.9M1137.3 465.8V468.9M1140.6 378.7V452.7M1141.8 378.7V530.7M1142.9 466V530.7M1058.5 488.1V508.5M1061.3 495.5V508.2M1063.2 493.7V497.5M1065 491.8V495M1066.9 488.1V493M1068.7 485.3V489.6M1071.5 486.3V489.2M1075.2 487.2V497.2M1077.1 493.7V507.8M1081.7 500.2V509.8M1086.3 503V508.5M1088.2 486.3V504.4M1094.3 417.6V493.3M1096 486.3V509.2M1097.5 504.8V514.6M1103 504.8V514.6M1104.9 500.2V506.3M1106.7 497.4V501.7M1107.7 481.6V500.1M1109.9 497.4V504.6M1116.9 506.7V512M1122.5 504.8V512.9M1126.8 364.8V392.2M1127.5 389.8V418.9M1129 388.9V431.7M1134.6 445.5V465.4M1136.4 464V468.9M1139.2 404.7V468.9M1140.5 378.7V465.4M1142.3 378.7V530.7" fill="none" stroke="#4A5527" stroke-width="1.75" stroke-linecap="round"/>
<line x1="1066.9" y1="464.4" x2="1066.9" y2="473.1" stroke="#4A5527" stroke-width="2.4" stroke-linecap="round"/>
<line x1="1073" y1="458.8" x2="1073" y2="465.7" stroke="#4A5527" stroke-width="2.4" stroke-linecap="round"/>
<line x1="1073" y1="470.9" x2="1073" y2="480.6" stroke="#4A5527" stroke-width="2.4" stroke-linecap="round"/>
<path d="M1156.3 537L1156.3 537L1157.3 537L1158.3 537L1159.3 489.1L1160.3 467.1L1161.3 465.7L1162.3 464L1163.3 496.3L1164.3 501.7L1165.3 505.6L1166.3 504.7L1167.3 507.4L1168.3 508.6L1169.3 509.9L1170.3 508.3L1171.3 501.5L1172.3 506.9L1173.3 507L1174.3 504.4L1175.3 507L1176.3 500L1177.3 497.4L1178.3 504.1L1179.3 502.3L1180.3 506.7L1181.3 505.6L1182.3 506.3L1183.3 507.8L1184.3 505.6L1185.3 505.2L1186.3 504.8L1187.3 504.4L1188.3 508.2L1189.3 506L1190.3 507L1191.3 508.2L1192.3 509.9L1193.3 508.5L1194.3 509.1L1195.3 511.9L1196.3 510.2L1197.3 509.9L1198.3 508L1199.3 509.1L1200.3 502.8L1201.3 506.1L1202.3 501.6L1203.3 507.3L1204.3 506.4L1205.3 507.1L1206.3 507.9L1207.3 511L1208.3 511.6L1209.3 509L1210.3 509.6L1211.3 514.2L1212.3 511.4L1213.3 512.4L1214.3 514.7L1215.3 512.4L1216.3 514.9L1217.3 512L1218.3 496.9L1219.3 472.2L1220.3 472.5L1221.3 486.3L1222.3 491.7L1223.3 491.5L1224.3 496L1225.3 494.9L1226.3 492.9L1227.3 460.7L1228.3 441.7L1229.3 441L1230.3 450.3L1231.3 447.9L1232.3 445.3L1233.3 449.3L1234.3 441.2L1235.3 388.8L1236.3 453.6L1237.3 496.3L1238.3 497.8L1239.3 511.2L1240.3 514.5L1241.1 537Z" fill="#D50A6C" stroke="#D50A6C" stroke-width="1" stroke-linejoin="round"/>
<path d="M1157.2 493.6V537M1158.3 466.1V537M1159.5 450.4V468.5M1160.6 464.8V468.5M1161.7 437.9V468.5M1162.8 419.1V482.5M1165.1 489.1V508.6M1166.2 502.8V509.9M1169.5 499.6V509.9M1170.7 498.4V507.4M1174 505.2V509M1175.1 490.2V509M1176.3 408.6V503.5M1177.4 405V499.4M1179.6 502.8V506.9M1188.6 505.3V508.4M1189.7 506.6V509.6M1190.8 507.5V510.2M1197.5 507.9V511.9M1198.7 506.1V510.4M1199.8 500.9V508.4M1200.9 477.4V506.8M1202 476.2V507M1203.1 504.9V508M1204.3 506.2V509.3M1205.4 507.2V510M1209.9 510.3V512.9M1212.1 512.1V515.2M1215.5 509.6V515.2M1216.6 497.9V514.9M1217.7 441.6V508.1M1218.8 401.3V487.5M1219.9 389.2V455.9M1223.3 490.2V496.5M1225.5 444.5V496.5M1226.7 429.7V495.1M1227.8 415.5V442.4M1228.9 415V448.3M1230 443.2V450.4M1232.3 442.3V450.4M1233.4 383.7V450.4M1234.5 367.9V435.1M1236.7 395.8V491.3M1237.9 415V500.6M1239 498.5V514.9M1240.1 497V514.9M1158.5 451V523M1162.3 419.5V468.5M1166 501.1V509.9M1169.3 499.2V509.9M1171.5 497.4V509M1175.2 486.3V509M1188.2 504.8V508.1M1199.3 504.8V509.2M1200.5 477V507.2M1202.3 476.1V507.3M1203.1 504.8V508M1210.5 510.4V513.7M1216 504.8V515.2M1217 478.8V513.2M1229.9 441.7V450.4M1233.5 368.5V450.4M1235.3 367.6V391.8M1236.1 389.8V432.8M1239.2 499.5V514.9" fill="none" stroke="#D50A6C" stroke-width="1.75" stroke-linecap="round"/>
<path d="M1252.6 537L1252.6 537L1253.6 537L1254.6 537L1255.6 513.4L1256.6 509.8L1257.6 460.5L1258.6 397.4L1259.6 385.4L1260.6 483.3L1261.6 495.3L1262.6 507.4L1263.6 512.4L1264.6 515.4L1265.6 512.5L1266.6 513L1267.6 514.2L1268.6 514.2L1269.6 512L1270.6 506.8L1271.6 510.8L1272.6 509.5L1273.6 511.5L1274.6 506.8L1275.6 509.3L1276.6 504.9L1277.6 503.3L1278.6 507.1L1279.6 505.1L1280.6 508.5L1281.6 507.1L1282.6 510.9L1283.6 509.2L1284.6 507.6L1285.6 500L1286.6 498.4L1287.6 487.8L1288.6 459.4L1289.6 477L1290.6 487L1291.6 504.7L1292.6 504.8L1293.6 505L1294.6 505.9L1295.6 509.1L1296.6 509.6L1297.6 508.6L1298.6 509.2L1299.6 505.2L1300.6 506.5L1301.6 495.2L1302.6 499L1303.6 496L1304.6 503.4L1305.6 509.6L1306.6 508L1307.6 510.8L1308.6 508.4L1309.6 506.9L1310.6 510L1311.6 504.9L1312.6 500.3L1313.6 501.6L1314.6 500.7L1315.6 502.3L1316.6 501.8L1317.6 501.8L1318.6 501.1L1319.6 502.2L1320.6 503.2L1321.6 507.9L1322.6 504.7L1323.6 509L1324.6 508.7L1325.6 508.9L1326.6 496.2L1327.6 402.7L1328.6 402.6L1329.6 402.6L1330.6 398.4L1331.6 393.4L1332.6 386.1L1333.6 414.6L1334.6 440.2L1335.6 447.3L1336.6 447.4L1337.6 449.6L1338.6 448.7L1339.6 445.7L1340.6 491.9L1341.6 504.3L1342.6 496.3L1343.6 507.8L1344.6 508.1L1345.6 506.2L1346.6 503.2L1347.6 503.4L1348.6 503.7L1349.6 491.7L1350.6 496.3L1351.3 537Z" fill="#E5671A" stroke="#E5671A" stroke-width="1" stroke-linejoin="round"/>
<path d="M1253.5 515.1V537M1254.6 508.5V537M1256.8 412V507.5M1258 378.6V426.9M1259.1 370.4V396.3M1260.2 360.9V382.5M1261.3 360.4V494.9M1262.4 415V506.8M1263.6 498.9V514.5M1264.7 507.9V515.3M1268 509.8V515.3M1270.3 495.5V510.2M1271.4 495.5V511.5M1273.6 508.5V511.5M1277 494.6V506.6M1278.1 494.6V507.2M1279.2 505.2V508.8M1280.4 506.5V510.1M1281.5 507.9V510.7M1283.7 506.6V510.7M1284.8 497.9V510.7M1286 482.2V505.8M1287.1 453V495.2M1288.2 402V480.8M1289.3 385.5V472.6M1292.7 487.3V506.8M1293.8 504.8V508.4M1296 507.6V510.6M1298.3 507.9V510.6M1300.5 497.6V507.6M1305 497.4V508.6M1309.5 507.8V510.7M1310.6 505.1V510.4M1311.7 501.2V508.3M1319.6 500.3V504.1M1320.7 491.5V503.1M1321.8 482.6V509.8M1322.9 491.9V509.8M1324 506.5V509.8M1326.3 402.4V504.6M1327.4 401.9V434.5M1329.6 396.8V403.1M1330.8 372.2V403.1M1331.9 372.2V388.3M1335.2 406.1V450M1339.7 377.7V450.4M1340.8 377.4V505.2M1342 460.1V508.2M1346.4 505.1V508.2M1347.6 484.8V508.2M1348.7 419.5V503.4M1349.8 419.2V496M1256.5 399.1V509.7M1258 375V426.9M1259.6 361.1V386.9M1261.8 360.1V501.5M1263.3 493.7V513.6M1268.9 504.8V514.7M1269.8 495.5V511.8M1271.7 495.5V511.5M1275.4 504.8V510.1M1276.3 494.6V508.1M1278.2 494.6V507.2M1279.1 504.8V508.5M1285.6 486.3V508.9M1286.5 462.2V501.3M1287.8 393.5V485.9M1291.1 467.7V498.6M1292.4 482.6V506.5M1293.9 504.8V508.4M1299.5 497.4V510.6M1302.3 495.5V498.6M1311.6 501.1V508.9M1319.9 499.2V504.1M1320.8 482.6V502.6M1322.7 482.6V509.8M1325.1 486.3V509.8M1325.5 402.8V509.8M1327.3 401.9V434.5M1332.3 372.2V387.3M1333.2 386.1V403.2M1335.1 386.1V448.2M1339.6 377.8V450.4M1341.6 377.2V508.2M1347.3 486.3V508.2M1348.5 419.5V503.4M1350.3 419.1V496" fill="none" stroke="#E5671A" stroke-width="1.75" stroke-linecap="round"/>
<line x1="1303.2" y1="431" x2="1303.2" y2="437.9" stroke="#E5671A" stroke-width="2.4" stroke-linecap="round"/>
<line x1="1303.2" y1="448.4" x2="1303.2" y2="494.7" stroke="#E5671A" stroke-width="2.6999999999999997" stroke-linecap="round" stroke-dasharray="0.1 2.9"/>
<path d="M1363.5 537L1363.5 537L1364.5 537L1365.5 537L1366.5 502.9L1367.5 504L1368.5 505.2L1369.5 505.2L1370.5 506.7L1371.5 508.2L1372.5 510.2L1373.5 507.9L1374.5 503.5L1375.5 486.1L1376.5 463.4L1377.5 415.5L1378.5 435L1379.5 492.7L1380.5 497L1381.5 501.3L1382.5 500.5L1383.5 499.9L1384.5 499.5L1385.5 501.5L1386.5 496L1387.5 499.2L1388.5 499.4L1389.5 501L1390.5 499.7L1391.5 491.8L1392.5 467.1L1393.5 449.6L1394.5 416.8L1395.5 419.3L1396.5 422L1397.5 421.1L1398.5 421.5L1399.5 424.5L1400.5 424.1L1401.5 437.7L1402.5 492.3L1403.5 503.3L1404.5 503.1L1405.5 504.9L1406.5 504.4L1407.5 505.9L1408.5 502.6L1409.5 503L1410.5 506.6L1411.5 504.7L1412.5 504L1413.5 497.5L1414.5 502.7L1415.5 494.2L1416.5 490.4L1417.5 501.8L1418.5 503.1L1419.5 502.1L1420.5 503.5L1421.5 502.8L1422.5 501.4L1423.5 497.2L1424.5 495.1L1425.5 488.6L1426.5 490.4L1427.5 490.8L1428.5 482.2L1429.5 459.7L1430.5 436.8L1431.5 474.3L1432.5 498.8L1433.5 508L1434.5 508.4L1435.5 507.1L1436.5 507.2L1437.5 510L1438.5 503.8L1439.5 501.8L1440.5 500.9L1441.5 501.8L1442.5 507.4L1443.5 530.5L1444.5 531.5L1445.5 530.2L1445.5 537Z" fill="#D681B9" stroke="#D681B9" stroke-width="1" stroke-linejoin="round"/>
<path d="M1364.4 503.3V537M1365.5 502.2V537M1366.6 500.1V505.1M1367.7 501.4V507.2M1368.9 504.9V509.3M1370 506.8V510.5M1372.2 508V510.5M1373.3 490V510.5M1374.5 466.9V506.2M1376.7 403.1V462.3M1377.8 410.3V418.8M1378.9 424.5V468.3M1380.1 417.6V501.4M1381.2 483.4V501.5M1385.7 459.8V501.5M1386.8 454.2V501.5M1387.9 485.4V501.4M1389 498.5V501.4M1390.1 476.3V501.4M1391.3 452.5V496.7M1392.4 409.3V468.7M1393.5 389.9V449.3M1394.6 389.8V422.8M1398 422.3V425M1399.1 422.7V426.4M1402.5 425.7V494M1403.6 437.8V504.5M1404.7 497.2V506.5M1408.1 502.3V506.5M1409.2 499.3V506.3M1410.3 503.2V506.5M1413.7 495.4V506.5M1415.9 433.3V493.7M1417 424.3V499.7M1418.1 489.1V505.7M1421.5 502.9V505.7M1422.6 499.3V505.3M1423.7 494.5V503.5M1424.9 492V498.9M1426 487V494.8M1427.1 478.5V492.7M1428.2 449.3V486.1M1430.5 405.7V441.6M1433.8 484.7V509.8M1434.9 504.7V509.8M1437.2 506.1V509.8M1438.3 504V509M1442.8 501.1V513.4M1443.9 501.1V532.2M1364.4 501.1V537M1367.2 499.2V506.3M1369 504.8V509.3M1378.1 417.6V429.2M1380 417.6V501.4M1380.7 449.2V501.5M1385.7 454.7V501.5M1387.6 453.8V501.4M1390.4 467.7V501.4M1393.5 389.8V449.3M1395.6 389.8V423.1M1398.2 422.3V425.5M1399.3 422.3V426.5M1403.4 426V502.8M1408.9 497.4V506M1414.5 486.3V505M1415.4 425.1V498.7M1417.3 424.1V502.2M1418.2 486.3V505.7M1423.8 493.7V503.5M1426.5 482.6V494.1M1427.5 464V490.6M1428.9 406.5V479.5M1430.8 405.6V442.2M1433 441.7V505.4M1434 486.3V509.8M1438.6 503V508.5M1445.1 514.1V532.2" fill="none" stroke="#D681B9" stroke-width="1.75" stroke-linecap="round"/>
<line x1="1442.9" y1="487.6" x2="1442.9" y2="489.8" stroke="#D681B9" stroke-width="2.4" stroke-linecap="round"/>
<path d="M1458.4 537L1458.4 537L1459.4 537L1460.4 534.3L1461.4 497.4L1462.4 492.7L1463.4 485.2L1464.4 483.2L1465.4 482.7L1466.4 485.4L1467.4 482.5L1468.4 457.6L1469.4 456.9L1470.4 459.7L1471.4 458.8L1472.4 451.7L1473.4 446.5L1474.4 451.2L1475.4 449.6L1476.4 475.1L1477.4 485.7L1478.4 491.5L1479.4 495.9L1480.4 496.3L1481.4 501.5L1482.4 511.7L1483.4 509.6L1484.4 510L1485.4 509.9L1486.4 510.7L1487.4 510L1488.4 512L1489.4 509.3L1490.4 510.3L1491.4 509.9L1492.4 509.4L1493.4 510.5L1494.4 511L1495.4 511.7L1496.4 508.7L1497.4 502.9L1498.4 520.1L1499.4 516.8L1499.7 537Z" fill="#81D3A9" stroke="#81D3A9" stroke-width="1" stroke-linejoin="round"/>
<path d="M1459.3 498.8V537M1460.5 502.2V537M1461.6 493V498.2M1462.7 487V496.9M1463.8 485V491.7M1464.9 484V486.6M1466.1 478.5V485.5M1467.2 458.4V484.8M1468.3 459.1V470.3M1470.5 454.8V459.6M1471.7 452.1V458.2M1472.8 449.8V455.2M1473.9 395.2V452.3M1475 393V450.3M1476.1 443V464.2M1479.5 488.6V497.4M1480.6 493.7V503.2M1482.9 504.6V512.4M1484 509.5V512.4M1488.5 509.2V512.3M1491.8 507.6V512.3M1492.9 507.1V512M1495.2 506.8V511.4M1496.3 497.3V511.4M1497.4 494.9V512.6M1459.4 497.4V537M1460.8 495.5V514.4M1462.3 486.3V497.2M1463.6 484.4V493.8M1466.4 458.4V485.2M1471 452.9V459.6M1472.9 449.2V454.4M1473.8 393.5V452.3M1475.7 392.6V450.1M1478.6 486.3V493.8M1480.3 490V501.1M1482.2 497.4V511.3M1487.7 508.5V511.7M1492.4 504.8V512.3M1496.1 495.5V511.4M1497.9 494.6V521M1499.2 504.8V521" fill="none" stroke="#81D3A9" stroke-width="1.75" stroke-linecap="round"/>
<line x1="1492.4" y1="383.7" x2="1492.4" y2="402.7" stroke="#81D3A9" stroke-width="2.4" stroke-linecap="round"/>
<line x1="1492.4" y1="421.1" x2="1492.4" y2="421.8" stroke="#81D3A9" stroke-width="2.6999999999999997" stroke-linecap="round" stroke-dasharray="0.1 2.9"/>
<line x1="1492.4" y1="426.7" x2="1492.4" y2="427.4" stroke="#81D3A9" stroke-width="2.6999999999999997" stroke-linecap="round" stroke-dasharray="0.1 2.9"/>
<line x1="1492.4" y1="436.9" x2="1492.4" y2="437.6" stroke="#81D3A9" stroke-width="2.6999999999999997" stroke-linecap="round" stroke-dasharray="0.1 2.9"/>
<line x1="1492.4" y1="441.5" x2="1492.4" y2="442.2" stroke="#81D3A9" stroke-width="2.6999999999999997" stroke-linecap="round" stroke-dasharray="0.1 2.9"/>
<line x1="1492.4" y1="461" x2="1492.4" y2="461.7" stroke="#81D3A9" stroke-width="2.6999999999999997" stroke-linecap="round" stroke-dasharray="0.1 2.9"/>
<line x1="1492.4" y1="466.9" x2="1492.4" y2="504" stroke="#81D3A9" stroke-width="2.6999999999999997" stroke-linecap="round" stroke-dasharray="0.1 2.9"/>
<line x1="1474.8" y1="376.6" x2="1474.8" y2="377.3" stroke="#81D3A9" stroke-width="2.6999999999999997" stroke-linecap="round" stroke-dasharray="0.1 2.9"/>
<path d="M1511.2 537L1511.2 537L1512.2 537L1513.2 537L1514.2 510.1L1515.2 505.6L1516.2 502.8L1517.2 504.9L1518.2 491.7L1519.2 492.8L1520.2 501L1521.2 504.2L1522.2 509.8L1523.2 509.8L1524.2 508.4L1525.2 506.9L1526.2 506.5L1527.2 504.8L1528.2 504L1529.2 511.4L1530.2 506.9L1531.2 509.4L1532.2 502.7L1533.2 511.8L1534.2 504L1535.2 507.5L1536.2 522.5L1537.2 522.4L1537.7 537Z" fill="#7D152D" stroke="#7D152D" stroke-width="1" stroke-linejoin="round"/>
<path d="M1512.1 514.3V537M1513.2 507.8V537M1514.3 506V513.2M1515.4 505V507.6M1516.6 485.1V506.6M1517.7 458.8V504.8M1518.8 449.2V484M1519.9 449.2V504.2M1521 486.8V508M1523.3 507.6V510.7M1526.6 465.9V510.7M1527.8 454.7V507M1528.9 478.6V510.7M1532.2 481.9V511.4M1533.4 406.1V510.2M1534.5 426.9V508.7M1535.6 507.3V524M1536.7 508.2V524M1515.4 504.8V507.6M1516.4 486.3V506.8M1518.2 449.2V494.4M1521 486.3V508M1521.9 503V510.2M1526.2 486.3V510.7M1529.3 504.8V511.4M1534.9 486.3V509.4M1535.8 506.7V524M1537.1 508.5V524" fill="none" stroke="#7D152D" stroke-width="1.75" stroke-linecap="round"/>
<line x1="1519.1" y1="386.5" x2="1519.1" y2="410.1" stroke="#7D152D" stroke-width="2.4" stroke-linecap="round"/>
<line x1="1519.1" y1="416.5" x2="1519.1" y2="417.2" stroke="#7D152D" stroke-width="2.6999999999999997" stroke-linecap="round" stroke-dasharray="0.1 2.9"/>
<line x1="1519.1" y1="420.2" x2="1519.1" y2="420.9" stroke="#7D152D" stroke-width="2.6999999999999997" stroke-linecap="round" stroke-dasharray="0.1 2.9"/>
<line x1="1519.1" y1="427.3" x2="1519.1" y2="439.7" stroke="#7D152D" stroke-width="2.4" stroke-linecap="round"/>
<path d="M1549.4 537L1549.4 537L1550.4 537L1551.4 537L1552.4 510L1553.4 508L1554.4 503.5L1555.4 506.4L1556.4 498.3L1557.4 505.9L1558.4 504.3L1559.4 504.8L1560.4 503.2L1561.4 505.5L1562.4 503.2L1563.4 506.5L1564.4 508.3L1565.4 504.6L1566.4 502.7L1567.4 502L1568.4 496.4L1569.4 503.7L1570.4 481.7L1571.4 438.9L1572.4 450.6L1573.4 446.9L1574.4 451.9L1575.4 458.3L1576.4 457.6L1577.4 457.6L1578.4 457.1L1579.4 482.8L1580.4 489.3L1581.4 494.4L1582.4 500.8L1583.4 505.7L1584.4 504.7L1585.4 506.9L1586.4 506.8L1587.4 507.4L1588.4 503.4L1589.4 495.6L1590.4 511.5L1591.4 520.3L1592.4 521.7L1593.4 523.5L1594.4 522.7L1594.6 537Z" fill="#257A5C" stroke="#257A5C" stroke-width="1" stroke-linejoin="round"/>
<path d="M1550.3 510.7V537M1552.5 472.6V508.1M1553.6 498.8V508.1M1554.8 490.7V508.1M1555.9 449.2V508.1M1557 455.2V504.2M1558.1 499.1V506.5M1560.4 502.7V506.5M1561.5 491.8V508.2M1562.6 499.6V508.2M1564.8 500.9V508.2M1566 491.9V507.2M1568.2 492.2V504M1569.3 378.7V504M1570.4 378.5V486.6M1571.6 439.5V444.4M1572.7 440.4V450.5M1573.8 446.7V451.1M1574.9 450.5V458.7M1576 450.3V459.6M1579.4 457.7V488.1M1580.5 461.1V493.7M1581.6 489.2V496.9M1582.8 494.7V507.3M1583.9 499.5V507.3M1587.2 501.7V507.3M1588.4 497V505.2M1589.5 489.6V500.9M1590.6 485.8V516.5M1592.8 518.1V524.5M1594 521.5V524.5M1550.7 504.8V537M1555.3 449.2V508.1M1557.5 493.7V506.3M1560.9 491.8V506.5M1562.4 491.8V508.2M1565 499.2V508.2M1565.9 491.8V507.2M1568.3 486.3V504M1571.6 439.9V444.4M1573.5 440.8V450.8M1574.4 449.2V453.1M1579.1 457.5V476.3M1580.9 458.4V494.3M1581.3 486.3V494.9M1583.5 493.7V507.3M1587.8 497.4V506.4M1589.6 486.3V499.4M1591.5 485.3V521M1593.3 519.6V524.5" fill="none" stroke="#257A5C" stroke-width="1.75" stroke-linecap="round"/>
<line x1="1583.5" y1="484.7" x2="1583.5" y2="485.5" stroke="#257A5C" stroke-width="2.6999999999999997" stroke-linecap="round" stroke-dasharray="0.1 2.9"/>
<path d="M1606.9 537L1606.9 537L1607.9 537L1608.9 537L1609.9 498.7L1610.9 497.4L1611.9 500.6L1612.9 458.9L1613.9 438.7L1614.9 427.4L1615.9 451.5L1616.9 479.4L1617.9 477.3L1618.9 481.4L1619.9 479.5L1620.9 479.2L1621.9 478.2L1622.9 477.9L1623.9 483.6L1624.9 482.2L1625.9 485.1L1626.9 497.7L1627.9 503.2L1628.9 503.9L1629.9 501.3L1630.9 502.3L1631.9 503.4L1632.9 491.7L1633.9 499.5L1634.9 500L1635.9 497.8L1636.9 500.1L1637.9 499.7L1638.9 491.4L1639.9 500L1640.9 500.7L1641.9 502.3L1642.9 503.7L1643.9 508.4L1644.9 508.4L1645.9 500.9L1646.9 493.9L1647.9 500.4L1648.9 499.3L1649.9 500.3L1650.9 498L1651.9 500.9L1652.9 498.1L1653.9 504.7L1654.9 502.1L1655.9 503.5L1656.9 505L1657.9 504.5L1658.9 501.8L1659.9 503.5L1660.9 493.4L1661.9 467.2L1662.9 460.5L1663.9 465.2L1664.9 465.6L1665.9 476.5L1666.9 485.8L1667.9 483.5L1668.9 507.1L1669.9 509.4L1670.9 506.2L1671.9 510.1L1672.9 508.2L1673.9 505.5L1674.9 509.7L1675.9 509.1L1676.9 507.2L1677.9 504.6L1678.9 506L1679.9 505.7L1680.9 500.8L1681.9 502.6L1682.9 507.2L1683.9 509.2L1684.9 509.9L1685.9 511.4L1686.9 513.3L1687.9 511.9L1688.9 512.2L1689.9 514L1690.9 507.3L1691.9 509.9L1692.9 503.4L1693.9 504.1L1694.9 505.8L1695.9 512.5L1696.9 509.4L1697.9 521.9L1698.9 521.8L1699.9 520L1699.9 537Z" fill="#4496D8" stroke="#4496D8" stroke-width="1" stroke-linejoin="round"/>
<path d="M1607.8 480V537M1608.9 472.5V537M1611.1 449.4V500.9M1612.2 428.6V494.3M1613.4 400.8V448.5M1614.5 397.4V430.6M1615.6 431V449.5M1616.7 434.4V480.3M1617.8 454.2V481.5M1622.3 478V481.7M1623.4 466.8V480.7M1624.6 466.8V485.4M1625.7 482.1V487.4M1626.8 487.1V502.1M1627.9 490.8V503.9M1630.2 501.2V503.9M1631.3 488.1V503.9M1632.4 464.5V500.3M1633.5 463.3V499.8M1636.9 471.7V499.8M1638 436.9V499.8M1639.1 436.7V498.8M1640.2 480.4V501.5M1643.6 496V508.1M1645.8 454.4V508.1M1647 453.9V497.8M1648.1 489.4V502.3M1649.2 498.6V502.3M1650.3 460.2V502.3M1651.4 428.4V502.3M1652.6 448V498.1M1653.7 496.3V501M1654.8 483.4V505.7M1659.3 477.2V505.7M1660.4 469V505.3M1661.5 460.1V468.9M1664.9 463.8V470.6M1666 470.1V483.8M1667.1 474.1V485.8M1668.2 485V500.1M1669.4 485.3V509.9M1670.5 499.4V509.9M1673.8 492.7V509.9M1675 492.1V509.9M1676.1 506.1V509.5M1677.2 506.8V509.5M1678.3 503.7V509.5M1679.4 498.6V507.2M1680.6 495.5V504.2M1681.7 496.1V502.6M1683.9 502.6V512.9M1685 508.3V515.3M1690.6 507.8V512M1691.8 506.4V509.6M1692.9 504.5V508.6M1695.1 499.7V510.1M1696.2 503.7V513.7M1697.4 510.4V515M1698.5 513.3V522M1607.6 473.3V537M1611.9 439.9V500.9M1612.8 398.2V458.8M1614.7 397.2V430.7M1616.9 429.7V480.5M1618.4 478.8V481.8M1622.1 478.8V481.8M1623 466.8V481M1624.9 466.8V485.9M1625.8 482.6V491.3M1627.6 486.3V503.9M1631.4 486.3V503.9M1632.3 464V500.3M1634.1 463.1V499.8M1637.3 437.1V499.8M1639.1 436.7V498.8M1643.4 486.3V508.1M1645.3 454.7V508.1M1647.1 453.8V499.7M1652.5 427.8V498.1M1659.5 467.7V505.7M1660.7 460.3V502.6M1662.9 459.9V464.2M1664.7 461.2V470.3M1665.7 467.7V481.6M1667 469.6V485.3M1668.1 482.6V493.6M1669.9 486.3V509.9M1673.6 492.8V509.9M1675.5 491.8V509.5M1678.6 503V508.9M1679.6 495.5V506.6M1681.4 495.5V501.8M1682.9 499.2V506.9M1684.8 504.8V515.3M1689.8 508.5V513.5M1691.6 506.7V510M1693.5 503V508.1M1695.3 499.2V511.5M1696.6 504.8V514.1M1698.1 512.2V522M1699.6 514.1V522" fill="none" stroke="#4496D8" stroke-width="1.75" stroke-linecap="round"/>
<path d="M1712 537L1712 537L1713 537L1714 537L1715 501.6L1716 502.8L1717 500.5L1718 500.3L1719 506.2L1720 505.1L1721 505L1722 507.7L1723 506L1724 508.4L1725 501.7L1726 498.9L1727 495L1728 496.1L1729 496.1L1730 499.1L1731 497.2L1732 463.4L1733 466.8L1734 464.1L1735 464L1736 466.9L1737 469.9L1738 470.9L1739 469.3L1740 469.9L1741 470.5L1742 499.4L1743 497.9L1744 501.5L1745 500.3L1746 501.9L1747 497.7L1748 500.9L1749 486.7L1750 492.5L1751 495.5L1752 496.8L1753 495.7L1754 491.2L1755 493.5L1756 469L1757 453.9L1758 456.3L1759 455.6L1760 498.6L1761 516.6L1762 516.1L1762.5 537Z" fill="#F8C021" stroke="#F8C021" stroke-width="1" stroke-linejoin="round"/>
<path d="M1712.9 493.3V537M1714 475V537M1715.2 481.1V504.8M1717.4 493.9V504.8M1718.5 491.8V503.3M1719.6 495.1V508.5M1720.8 503.6V509.7M1723 506.5V509.7M1724.1 503.8V509.7M1725.2 487.8V506.6M1726.4 484.4V503.4M1727.5 493.5V500.1M1729.7 465.7V500.1M1730.8 443.5V500.1M1732 443.2V468.2M1734.2 457.4V468.2M1735.3 455.8V467.1M1736.4 465.9V468.8M1737.6 466.7V472.6M1738.7 469.1V472.6M1740.9 469.8V473.2M1742 470V501.3M1743.2 483.6V501.5M1748.8 464.9V494.2M1749.9 464.9V496.5M1751 490V496.5M1754.4 453.4V496.5M1755.5 443.9V495.3M1756.6 449.7V455.9M1758.8 430.5V455.9M1760 417.4V501.1M1761.1 433.9V520.2M1717.6 491.8V504.8M1720.4 499.2V509.7M1724.1 503V509.7M1725 486.3V507.4M1726.9 483.5V500.1M1730.2 443.6V500.1M1732.1 443.2V468.2M1733.7 456.6V468.2M1735.6 455.7V467.1M1738.2 465.9V472.6M1741.1 469.6V473.2M1747.3 467.7V501.5M1748.6 464.9V500.1M1758.9 417.6V455.9M1760.8 417.3V520.2" fill="none" stroke="#F8C021" stroke-width="1.75" stroke-linecap="round"/>
<path d="M1774.2 537L1774.2 537L1775.2 537L1776.2 537L1777.2 508.4L1778.2 474.7L1779.2 499L1780.2 498.1L1781.2 497.8L1782.2 500L1783.2 495.3L1784.2 517.4L1785.2 516.8L1786.2 515L1787.2 514.7L1788.2 516.2L1789.2 513.6L1790.2 515L1791.2 514.3L1792.2 513.6L1793.2 511.6L1794.2 511L1795.2 505.8L1796.2 469.8L1797.2 443.8L1798.2 489.1L1799.2 504.7L1800.2 501.5L1801.2 508.3L1802.2 506.3L1803.2 509.5L1804.2 508.2L1805.2 511.9L1806.2 508.6L1807.2 507.5L1808.2 510.6L1809.2 506.7L1810.2 509.4L1811.2 506.4L1812.2 506.5L1813.2 507.4L1814.2 511.5L1815.2 510L1816.2 512.6L1817.2 511.7L1818.2 506.4L1819.2 503.7L1820.2 496.7L1821.2 510.8L1822.2 510.8L1823.2 511L1824.2 511.4L1825.2 515.2L1826.2 514.2L1827.2 518.9L1828.2 518.3L1829.2 518.2L1830.2 485L1831.2 473.6L1832.2 458.6L1833.2 430.7L1834.2 429.7L1835.2 431.4L1836.2 431.5L1837.2 378.2L1838.2 436.6L1839.2 431.9L1840.2 448.1L1841.2 450.7L1842.2 462.5L1843.2 480.5L1844.2 492.9L1845.2 485.5L1845.9 537Z" fill="#433296" stroke="#433296" stroke-width="1" stroke-linejoin="round"/>
<path d="M1775.1 509V537M1776.2 455.5V537M1777.3 365.3V500M1778.4 365.3V494M1784 432.6V513.9M1785.1 480.1V517M1788.5 513.2V517.1M1793 513.2V516.5M1794.1 474V515.6M1795.2 413V510.9M1796.3 412.7V452.7M1797.5 442.6V450M1803.1 505.8V509.7M1805.3 508V511.5M1807.5 492.8V511.5M1808.7 492.8V511.5M1809.8 507.1V509.8M1812 506.4V510.3M1813.1 505.8V512.4M1816.5 509.1V512.4M1817.6 507V511.2M1818.7 502.8V509.6M1819.9 464V507.7M1821 464V510.8M1822.1 506.2V513.4M1823.2 510.7V513.4M1825.5 511.1V519.7M1827.7 491.3V519.7M1828.8 479.6V519.7M1829.9 473.2V487M1831.1 395.3V474.1M1832.2 395.1V458.1M1835.5 370.1V431.7M1836.7 334.8V401M1837.8 324.9V363.9M1838.9 324.9V439.7M1840 401.6V444.6M1841.1 439.1V452.9M1842.3 447.6V467.3M1843.4 453.9V486.6M1844.5 472.8V494.1M1775.6 486.3V537M1777.3 365.3V500M1779.2 365.3V499.8M1783.1 432.8V499.8M1788.1 512.2V517.1M1803.8 504.8V510.1M1807.5 492.8V511.5M1809 492.8V509.8M1813.1 504.8V512.4M1817.7 506.7V511.2M1821.3 464V511.7M1827 504.8V519.7M1828.6 473.3V519.7M1829.9 472.4V487M1830.9 395.4V474.3M1836.8 324.9V383.5M1839.4 324.9V440M1840.1 438V448.7M1841.6 439V456.7M1842.4 451V473.8M1843.5 451.9V486.6M1845.3 484.4V494.1" fill="none" stroke="#433296" stroke-width="1.75" stroke-linecap="round"/>
<path d="M1857.2 537L1857.2 537L1858.2 537L1859.2 537L1860.2 474.3L1861.2 431.8L1862.2 426.6L1863.2 475L1864.2 493L1865.2 501.1L1866.2 502.3L1867.2 500.3L1868.2 501.5L1869.2 482.6L1870.2 448.4L1871.2 445.6L1872.2 445L1873.2 437.2L1874.2 436.3L1875.2 436.3L1876.2 437.2L1877.2 436.3L1878.2 437.6L1879.2 473.5L1880.2 475.9L1881.2 477.8L1882.2 476.6L1883.2 477.3L1884.2 476.1L1885.2 489.5L1886.2 494.1L1887.2 496L1888.2 498.4L1889.2 502.8L1890.2 502.7L1891.2 504.5L1892.2 506.4L1893.2 505.8L1894.2 500.8L1895.2 501.7L1896.2 502.2L1897.2 507.9L1898.2 511.1L1899.2 511.4L1900.2 510.3L1901.2 510.3L1902.2 511.5L1903.2 509L1904.2 507.5L1905.2 511.2L1906.2 509.8L1907.2 514.2L1908.2 511.3L1909.2 512.6L1910.2 513L1911.2 513.9L1912.2 515.2L1913.2 511.7L1914.2 513.7L1915.2 519.2L1916.2 531.5L1917.2 529.6L1917.5 537Z" fill="#4A5527" stroke="#4A5527" stroke-width="1" stroke-linejoin="round"/>
<path d="M1858.1 481.5V537M1859.2 356.4V537M1860.4 355.9V448.3M1861.5 355.5V434M1862.6 431.9V442.1M1863.7 433.5V487.4M1864.8 445.4V504.5M1866 493.1V505.6M1868.2 432.2V505.6M1869.3 431.7V483.6M1871.6 438.5V450.4M1872.7 437.1V448M1878.3 432.8V442.7M1879.4 432.8V476.7M1880.5 455.7V479.2M1881.6 476.2V479.8M1883.9 476.9V479.8M1885 476.1V490.2M1886.1 476.1V495.6M1888.4 494.8V505.2M1889.5 498V506.5M1891.7 503V506.5M1892.8 492.8V506.5M1894 492.8V505.1M1896.2 492.8V505.1M1897.3 492.8V508.6M1902.9 508.3V512.3M1904 507.3V511.2M1905.2 507.4V512M1906.3 509.2V513.3M1907.4 511.3V515M1908.5 512.7V515.3M1914.1 508.7V514.1M1915.2 501V524M1916.4 510.7V532.2M1861.5 355.5V434M1865.7 486.3V505.6M1867.6 432.5V505.6M1869.5 431.5V451.2M1872.6 437.1V448M1878.2 432.8V442.7M1880 432.8V477.9M1884.3 476.1V479.8M1886.5 476.1V495.9M1887.4 493.7V498.4M1889.3 495.5V506.5M1892.4 492.8V506.5M1894.3 492.8V505.1M1898.6 504.8V511.7M1903.2 507.6V512.3M1905.1 506.7V511.6M1906.9 510.4V514.3M1914.7 501.1V517.3M1916.2 500.7V532.2" fill="none" stroke="#4A5527" stroke-width="1.75" stroke-linecap="round"/>
<line x1="1872.8" y1="355.9" x2="1872.8" y2="391.5" stroke="#4A5527" stroke-width="2.4" stroke-linecap="round"/>
<line x1="1872.8" y1="399.8" x2="1872.8" y2="404.2" stroke="#4A5527" stroke-width="2.6999999999999997" stroke-linecap="round" stroke-dasharray="0.1 2.9"/>
<line x1="1872.8" y1="409.1" x2="1872.8" y2="409.8" stroke="#4A5527" stroke-width="2.6999999999999997" stroke-linecap="round" stroke-dasharray="0.1 2.9"/>
<line x1="1872.8" y1="416.5" x2="1872.8" y2="417.2" stroke="#4A5527" stroke-width="2.6999999999999997" stroke-linecap="round" stroke-dasharray="0.1 2.9"/>
<line x1="1872.8" y1="420.2" x2="1872.8" y2="420.9" stroke="#4A5527" stroke-width="2.6999999999999997" stroke-linecap="round" stroke-dasharray="0.1 2.9"/>
<line x1="1872.8" y1="425.7" x2="1872.8" y2="426.5" stroke="#4A5527" stroke-width="2.6999999999999997" stroke-linecap="round" stroke-dasharray="0.1 2.9"/>
<line x1="975.1" y1="48.8" x2="975.1" y2="125.9" stroke="#433296" stroke-width="3.0" stroke-linecap="round"/>
<line x1="975.1" y1="132.1" x2="975.1" y2="221.1" stroke="#433296" stroke-width="3.0" stroke-linecap="round"/>
<line x1="975.1" y1="233.9" x2="975.1" y2="279.5" stroke="#433296" stroke-width="3.0" stroke-linecap="round"/>
<line x1="975.1" y1="285.5" x2="975.1" y2="398.5" stroke="#433296" stroke-width="3.0" stroke-linecap="round"/>
<line x1="972.8" y1="144" x2="972.8" y2="216.5" stroke="#433296" stroke-width="3.0" stroke-linecap="round"/>
<line x1="972.8" y1="234.5" x2="972.8" y2="279.5" stroke="#433296" stroke-width="3.0" stroke-linecap="round"/>
<line x1="972.8" y1="287.5" x2="972.8" y2="398.5" stroke="#433296" stroke-width="3.0" stroke-linecap="round"/>
<line x1="1127.5" y1="249" x2="1127.5" y2="290.9" stroke="#4A5527" stroke-width="2.6" stroke-linecap="round"/>
<line x1="1127.5" y1="299.1" x2="1127.5" y2="313.2" stroke="#4A5527" stroke-width="2.6" stroke-linecap="round"/>
<line x1="1127.5" y1="324" x2="1127.5" y2="325.4" stroke="#4A5527" stroke-width="2.8000000000000003" stroke-linecap="round" stroke-dasharray="0.1 3.0"/>
<line x1="1127.5" y1="348" x2="1127.5" y2="349.6" stroke="#4A5527" stroke-width="2.8000000000000003" stroke-linecap="round" stroke-dasharray="0.1 3.0"/>
<line x1="1127.5" y1="358.4" x2="1127.5" y2="359.8" stroke="#4A5527" stroke-width="2.8000000000000003" stroke-linecap="round" stroke-dasharray="0.1 3.0"/>
<line x1="1259" y1="199" x2="1259" y2="293.6" stroke="#E5671A" stroke-width="2.8" stroke-linecap="round"/>
<line x1="1259" y1="298.7" x2="1259" y2="356" stroke="#E5671A" stroke-width="3.0" stroke-linecap="round" stroke-dasharray="0.1 3.0"/>
<line x1="1288.7" y1="312.1" x2="1288.7" y2="344.7" stroke="#E5671A" stroke-width="2.6" stroke-linecap="round"/>
<line x1="1288.7" y1="360" x2="1288.7" y2="378.5" stroke="#E5671A" stroke-width="2.8000000000000003" stroke-linecap="round" stroke-dasharray="0.1 3.0"/>
<line x1="1467.4" y1="291.7" x2="1467.4" y2="354.7" stroke="#81D3A9" stroke-width="2.6" stroke-linecap="round"/>
<line x1="1467.4" y1="362.3" x2="1467.4" y2="392.5" stroke="#81D3A9" stroke-width="2.6" stroke-linecap="round"/>
<line x1="1467.4" y1="397.3" x2="1467.4" y2="458.7" stroke="#81D3A9" stroke-width="2.6" stroke-linecap="round"/>
<line x1="1838.5" y1="197.4" x2="1838.5" y2="320.6" stroke="#433296" stroke-width="2.8" stroke-linecap="round"/>
<line x1="1838.5" y1="324.4" x2="1838.5" y2="325.6" stroke="#433296" stroke-width="3.0" stroke-linecap="round" stroke-dasharray="0.1 3.0"/>
<line x1="1838.5" y1="329.4" x2="1838.5" y2="338.6" stroke="#433296" stroke-width="2.8" stroke-linecap="round"/>
<line x1="1837.2" y1="338.7" x2="1837.2" y2="354.3" stroke="#433296" stroke-width="3.4" stroke-linecap="round"/>
<line x1="1839.4" y1="339.5" x2="1839.4" y2="348.5" stroke="#433296" stroke-width="3.0" stroke-linecap="round"/>
<line x1="1872.9" y1="355.9" x2="1872.9" y2="392.6" stroke="#4A5527" stroke-width="2.4" stroke-linecap="round"/>
<line x1="166.6" y1="409" x2="1917" y2="409" stroke="#1a1a1a" stroke-width="2" stroke-dasharray="7.4 4.7"/>
<line x1="160.2" y1="24" x2="160.2" y2="537.4" stroke="#231815" stroke-width="3.9"/>
<line x1="146.8" y1="66.4" x2="160.2" y2="66.4" stroke="#231815" stroke-width="3.8"/>
<line x1="146.8" y1="161" x2="160.2" y2="161" stroke="#231815" stroke-width="3.8"/>
<line x1="146.8" y1="255.5" x2="160.2" y2="255.5" stroke="#231815" stroke-width="3.8"/>
<line x1="146.8" y1="349.9" x2="160.2" y2="349.9" stroke="#231815" stroke-width="3.8"/>
<line x1="146.8" y1="442" x2="160.2" y2="442" stroke="#231815" stroke-width="3.8"/>
<line x1="146.8" y1="535.4" x2="160.2" y2="535.4" stroke="#231815" stroke-width="3.8"/>
<text x="138.4" y="75" font-size="28.7" text-anchor="end" fill="#000">1000</text>
<text x="134.9" y="169.6" font-size="28.7" text-anchor="end" fill="#000">800</text>
<text x="134.9" y="264.1" font-size="28.7" text-anchor="end" fill="#000">600</text>
<text x="134.6" y="358.5" font-size="28.7" text-anchor="end" fill="#000">400</text>
<text x="134" y="450.6" font-size="28.7" text-anchor="end" fill="#000">200</text>
<line x1="160" y1="558.2" x2="1921.7" y2="558.2" stroke="#231815" stroke-width="4"/>
<line x1="188.5" y1="559" x2="188.5" y2="575.8" stroke="#231815" stroke-width="3.8"/>
<text x="188.3" y="601.7" font-size="28.7" text-anchor="middle" fill="#000">1</text>
<line x1="232.5" y1="559" x2="232.5" y2="575.8" stroke="#231815" stroke-width="3.8"/>
<text x="234.6" y="601.7" font-size="28.7" text-anchor="middle" fill="#000">2</text>
<line x1="305" y1="559" x2="305" y2="575.8" stroke="#231815" stroke-width="3.8"/>
<text x="306.4" y="601.7" font-size="28.7" text-anchor="middle" fill="#000">3</text>
<line x1="385.5" y1="559" x2="385.5" y2="575.8" stroke="#231815" stroke-width="3.8"/>
<text x="385.6" y="601.7" font-size="28.7" text-anchor="middle" fill="#000">4</text>
<line x1="447.5" y1="559" x2="447.5" y2="575.8" stroke="#231815" stroke-width="3.8"/>
<text x="448.3" y="601.7" font-size="28.7" text-anchor="middle" fill="#000">5</text>
<line x1="515" y1="559" x2="515" y2="575.8" stroke="#231815" stroke-width="3.8"/>
<text x="515.4" y="601.7" font-size="28.7" text-anchor="middle" fill="#000">6</text>
<line x1="585.5" y1="559" x2="585.5" y2="575.8" stroke="#231815" stroke-width="3.8"/>
<text x="586.7" y="601.7" font-size="28.7" text-anchor="middle" fill="#000">7</text>
<line x1="657" y1="559" x2="657" y2="575.8" stroke="#231815" stroke-width="3.8"/>
<text x="658" y="601.7" font-size="28.7" text-anchor="middle" fill="#000">8</text>
<line x1="729.1" y1="559" x2="729.1" y2="575.8" stroke="#231815" stroke-width="3.8"/>
<text x="730.1" y="601.7" font-size="28.7" text-anchor="middle" fill="#000">9</text>
<line x1="791.8" y1="559" x2="791.8" y2="575.8" stroke="#231815" stroke-width="3.8"/>
<text x="793.5" y="601.7" font-size="28.7" text-anchor="middle" fill="#000">10</text>
<line x1="846.5" y1="559" x2="846.5" y2="575.8" stroke="#231815" stroke-width="3.8"/>
<text x="847.5" y="601.7" font-size="28.7" text-anchor="middle" fill="#000">11</text>
<line x1="899.1" y1="559" x2="899.1" y2="575.8" stroke="#231815" stroke-width="3.8"/>
<text x="899.5" y="601.7" font-size="28.7" text-anchor="middle" fill="#000">12</text>
<line x1="988" y1="559" x2="988" y2="575.8" stroke="#231815" stroke-width="3.8"/>
<text x="987.3" y="601.7" font-size="28.7" text-anchor="middle" fill="#000">13</text>
<line x1="1099.7" y1="559" x2="1099.7" y2="575.8" stroke="#231815" stroke-width="3.8"/>
<text x="1099.7" y="601.7" font-size="28.7" text-anchor="middle" fill="#000">14</text>
<line x1="1197.9" y1="559" x2="1197.9" y2="575.8" stroke="#231815" stroke-width="3.8"/>
<text x="1200.3" y="601.7" font-size="28.7" text-anchor="middle" fill="#000">15</text>
<line x1="1301.9" y1="559" x2="1301.9" y2="575.8" stroke="#231815" stroke-width="3.8"/>
<text x="1304.3" y="601.7" font-size="28.7" text-anchor="middle" fill="#000">16</text>
<line x1="1404.2" y1="559" x2="1404.2" y2="575.8" stroke="#231815" stroke-width="3.8"/>
<text x="1404.9" y="601.7" font-size="28.7" text-anchor="middle" fill="#000">17</text>
<line x1="1478.6" y1="559" x2="1478.6" y2="575.8" stroke="#231815" stroke-width="3.8"/>
<text x="1480.7" y="601.7" font-size="28.7" text-anchor="middle" fill="#000">18</text>
<line x1="1523.9" y1="559" x2="1523.9" y2="575.8" stroke="#231815" stroke-width="3.8"/>
<text x="1525.6" y="601.7" font-size="28.7" text-anchor="middle" fill="#000">19</text>
<line x1="1571.9" y1="559" x2="1571.9" y2="575.8" stroke="#231815" stroke-width="3.8"/>
<text x="1572.5" y="601.7" font-size="28.7" text-anchor="middle" fill="#000">20</text>
<line x1="1653" y1="559" x2="1653" y2="575.8" stroke="#231815" stroke-width="3.8"/>
<text x="1649.7" y="601.7" font-size="28.7" text-anchor="middle" fill="#000">21</text>
<line x1="1736.9" y1="559" x2="1736.9" y2="575.8" stroke="#231815" stroke-width="3.8"/>
<text x="1737.9" y="601.7" font-size="28.7" text-anchor="middle" fill="#000">22</text>
<line x1="1809.3" y1="559" x2="1809.3" y2="575.8" stroke="#231815" stroke-width="3.8"/>
<text x="1810.6" y="601.7" font-size="28.7" text-anchor="middle" fill="#000">23</text>
<line x1="1887.1" y1="559" x2="1887.1" y2="575.8" stroke="#231815" stroke-width="3.8"/>
<text x="1888.8" y="601.7" font-size="28.7" text-anchor="middle" fill="#000">24</text>
<g transform="translate(53 291) rotate(-90)"><text x="0" y="0" font-size="44.5" font-style="italic">B<tspan font-size="25" font-style="normal" dy="6" dx="-3.3">2</tspan></text></g>
<text x="776.2" y="17.5" font-size="24.7" text-anchor="start" fill="#000">DFR, uvrB/uvrC motif-containing protein</text>
<text x="979" y="90.1" font-size="24.7" text-anchor="start" fill="#000">AP, FBA</text>
<text x="894.9" y="127.2" font-size="24.7" text-anchor="start" fill="#000">CDPK</text>
<text x="1132.2" y="122.7" font-size="24.7" text-anchor="start" fill="#000">ARF</text>
<text x="1204.4" y="139.7" font-size="24.7" text-anchor="start" fill="#000">PTI1</text>
<text x="1062.2" y="204.8" font-size="24.7" text-anchor="start" fill="#000">PYR1</text>
<text x="838.8" y="279.9" font-size="24.7" text-anchor="start" fill="#000">ADH, PPR</text>
<text x="1129.2" y="277.9" font-size="24.7" text-anchor="start" fill="#000">thiC, GAUT</text>
<text x="1137.2" y="328.8" font-size="24.7" text-anchor="start" fill="#000">Dof</text>
<text x="1287.2" y="220.6" font-size="24.7" text-anchor="start" fill="#000">E2</text>
<text x="1310.1" y="267.2" font-size="24.7" text-anchor="start" fill="#000">STK, RLK</text>
<text x="1363.6" y="352.8" font-size="24.7" text-anchor="start" fill="#000">ATL4</text>
<text x="1695" y="343.7" font-size="24.7" text-anchor="start" fill="#000">AK, PAO</text>
<text x="1813" y="179" font-size="24.7" text-anchor="start" fill="#000">eIF4G</text>
<text x="211.3" y="205.6" font-size="24.7" text-anchor="start" fill="#000">RPM1, F5H</text>
<text x="253.1" y="279.7" font-size="24.7" text-anchor="start" fill="#000">PDI</text>
<text x="458.9" y="319.7" font-size="24.7" text-anchor="start" fill="#000">ENOD93</text>
<text x="585.3" y="343.5" font-size="24.7" text-anchor="start" fill="#000">RCF1</text>
<text x="815.7" y="372" font-size="24.7" text-anchor="start" fill="#000">UGT</text>
<path d="M999.1 24.3L984.2 54.4M991.6 50.1L984.2 54.4L983.2 45.9" fill="none" stroke="#B4B4B4" stroke-width="2.9" stroke-linecap="round" stroke-linejoin="miter"/>
<path d="M1014.1 98.9L983.8 316.7M989.4 310.2L983.8 316.7L980.1 308.9" fill="none" stroke="#B4B4B4" stroke-width="2.9" stroke-linecap="round" stroke-linejoin="miter"/>
<path d="M936.5 130.2L966.2 147.1M962.2 139.4L966.2 147.1L957.6 147.6" fill="none" stroke="#B4B4B4" stroke-width="2.9" stroke-linecap="round" stroke-linejoin="miter"/>
<path d="M1158 124.4L1128.9 241.1M1135.2 235.3L1128.9 241.1L1126.1 233" fill="none" stroke="#B4B4B4" stroke-width="2.9" stroke-linecap="round" stroke-linejoin="miter"/>
<path d="M1223.2 144.7L1260.5 194.4M1259.9 185.8L1260.5 194.4L1252.4 191.4" fill="none" stroke="#B4B4B4" stroke-width="2.9" stroke-linecap="round" stroke-linejoin="miter"/>
<path d="M1090.5 209L985 361.2M993 358L985 361.2L985.3 352.6" fill="none" stroke="#B4B4B4" stroke-width="2.9" stroke-linecap="round" stroke-linejoin="miter"/>
<path d="M919 283.4L959.9 325.5M958.2 317L959.9 325.5L951.5 323.6" fill="none" stroke="#B4B4B4" stroke-width="2.9" stroke-linecap="round" stroke-linejoin="miter"/>
<path d="M1197 285.4L1218.4 381.7M1221.4 373.7L1218.4 381.7L1212.3 375.7" fill="none" stroke="#B4B4B4" stroke-width="2.9" stroke-linecap="round" stroke-linejoin="miter"/>
<path d="M1157.5 335L1144.9 369.8M1151.8 364.6L1144.9 369.8L1143 361.4" fill="none" stroke="#B4B4B4" stroke-width="2.9" stroke-linecap="round" stroke-linejoin="miter"/>
<path d="M1300.2 227.8L1264.4 354.3M1270.8 348.7L1264.4 354.3L1261.8 346.1" fill="none" stroke="#B4B4B4" stroke-width="2.9" stroke-linecap="round" stroke-linejoin="miter"/>
<path d="M1347.7 274.7L1293.1 307.6M1301.7 307.9L1293.1 307.6L1296.9 299.9" fill="none" stroke="#B4B4B4" stroke-width="2.9" stroke-linecap="round" stroke-linejoin="miter"/>
<path d="M1389.5 360.3L1376.9 395.4M1383.8 390.2L1376.9 395.4L1375 387" fill="none" stroke="#B4B4B4" stroke-width="2.9" stroke-linecap="round" stroke-linejoin="miter"/>
<path d="M1739.1 350L1768.8 366.2M1764.7 358.6L1768.8 366.2L1760.2 366.8" fill="none" stroke="#B4B4B4" stroke-width="2.9" stroke-linecap="round" stroke-linejoin="miter"/>
<path d="M1849.5 185.5L1855.9 348.2M1860.3 340.8L1855.9 348.2L1851 341.2" fill="none" stroke="#B4B4B4" stroke-width="2.9" stroke-linecap="round" stroke-linejoin="miter"/>
<path d="M207.6 198.8L191.4 229M199 224.8L191.4 229L190.7 220.4" fill="none" stroke="#B4B4B4" stroke-width="2.9" stroke-linecap="round" stroke-linejoin="miter"/>
<path d="M262.2 283.9L247 313.5M254.5 309.3L247 313.5L246.1 305" fill="none" stroke="#B4B4B4" stroke-width="2.9" stroke-linecap="round" stroke-linejoin="miter"/>
<path d="M506.8 328.3L491.6 357.8M499.1 353.6L491.6 357.8L490.7 349.3" fill="none" stroke="#B4B4B4" stroke-width="2.9" stroke-linecap="round" stroke-linejoin="miter"/>
<path d="M610.7 350.8L595.8 380.4M603.2 376.1L595.8 380.4L594.8 371.9" fill="none" stroke="#B4B4B4" stroke-width="2.9" stroke-linecap="round" stroke-linejoin="miter"/>
<path d="M846.2 378.8L875.7 394.9M871.6 387.3L875.7 394.9L867.1 395.5" fill="none" stroke="#B4B4B4" stroke-width="2.9" stroke-linecap="round" stroke-linejoin="miter"/>
</g>
<g id="panel-b">
<text x="0" y="651.5" font-size="46" text-anchor="start" fill="#000">b</text>
<line x1="142.6" y1="1210" x2="912.6" y2="1210" stroke="#D9AE7C" stroke-width="1.9"/>
<rect x="276" y="1200.4" width="3" height="30" fill="#FDD0A2"/>
<rect x="330.4" y="1200.4" width="4.5" height="30" fill="#FDD0A2"/>
<rect x="335.9" y="1200.4" width="3" height="30" fill="#FDD0A2"/>
<rect x="346.4" y="1200.4" width="4.5" height="30" fill="#FDD0A2"/>
<rect x="610.2" y="1200.4" width="14.2" height="30" fill="#FDD0A2"/>
<rect x="626" y="1200.4" width="4" height="30" fill="#FDD0A2"/>
<rect x="634" y="1200.4" width="8" height="30" fill="#FDD0A2"/>
<rect x="607.7" y="1200.4" width="2.2" height="30" fill="#A64DFF"/>
<text x="279.6" y="1223" font-size="9" text-anchor="middle" fill="#444">\</text>
<text x="341" y="1223.5" font-size="12.5" text-anchor="middle" fill="#333">vv</text>
<text x="629" y="1223.5" font-size="12.5" text-anchor="middle" fill="#333">vv</text>
<line x1="141.3" y1="1090" x2="145.6" y2="1090" stroke="#888" stroke-width="1.2"/>
<line x1="909.2" y1="1090" x2="913.5" y2="1090" stroke="#888" stroke-width="1.2"/>
<line x1="142.2" y1="1112.8" x2="142.2" y2="1132.8" stroke="#FDE6D2" stroke-width="1"/>
<line x1="912.4" y1="1092.7" x2="912.4" y2="1112.7" stroke="#FDE6D2" stroke-width="1"/>
<g fill="#006400">
<circle cx="393.2" cy="811.8" r="4.5"/><circle cx="372.7" cy="855.8" r="4.5"/><circle cx="145.6" cy="1191.6" r="4.5"/><circle cx="143.8" cy="1195.4" r="4.5"/><circle cx="147.6" cy="1194.1" r="4.5"/><circle cx="144.6" cy="1199.1" r="4.5"/><circle cx="148.1" cy="1200.4" r="4.5"/><circle cx="150.1" cy="1196.6" r="4.5"/><circle cx="156.3" cy="1184.9" r="4.5"/><circle cx="157.6" cy="1189.9" r="4.5"/><circle cx="155.6" cy="1193.4" r="4.5"/><circle cx="157.1" cy="1196.6" r="4.5"/><circle cx="156.3" cy="1200.4" r="4.5"/><circle cx="163.9" cy="1203.4" r="4.5"/><circle cx="165.9" cy="1204.1" r="4.5"/><circle cx="175.6" cy="1199.9" r="4.5"/><circle cx="190.7" cy="1200.4" r="4.5"/><circle cx="291.6" cy="1048.9" r="4.5"/><circle cx="302.8" cy="1053.4" r="4.5"/><circle cx="303.6" cy="1056.4" r="4.5"/><circle cx="303.3" cy="1060.2" r="4.5"/><circle cx="314.6" cy="1005.6" r="4.5"/><circle cx="316.6" cy="1008.1" r="4.5"/><circle cx="314.8" cy="1011.4" r="4.5"/><circle cx="314.8" cy="1014.6" r="4.5"/><circle cx="327.9" cy="977.1" r="4.5"/><circle cx="332.4" cy="966.3" r="4.5"/><circle cx="335.4" cy="965" r="4.5"/><circle cx="336.1" cy="960" r="4.5"/><circle cx="336.6" cy="952" r="4.5"/><circle cx="341.6" cy="952.5" r="4.5"/><circle cx="342.9" cy="947.5" r="4.5"/><circle cx="342.4" cy="942.5" r="4.5"/><circle cx="343.4" cy="945" r="4.5"/><circle cx="674.8" cy="960.5" r="4.5"/><circle cx="684" cy="978.8" r="4.5"/><circle cx="682.8" cy="982.6" r="4.5"/><circle cx="687.8" cy="986.3" r="4.5"/><circle cx="682.8" cy="988.1" r="4.5"/><circle cx="691.5" cy="991.8" r="4.5"/><circle cx="719.3" cy="1034.4" r="4.5"/><circle cx="766.9" cy="1127" r="4.5"/><circle cx="780.9" cy="1140.3" r="4.5"/><circle cx="779.2" cy="1145.3" r="4.5"/><circle cx="777.9" cy="1149.1" r="4.5"/><circle cx="778.4" cy="1151.6" r="4.5"/><circle cx="818.7" cy="1152.1" r="4.5"/><circle cx="848.5" cy="1204.1" r="4.5"/><circle cx="853" cy="1192.4" r="4.5"/><circle cx="854.3" cy="1196.6" r="4.5"/><circle cx="868.1" cy="1192.9" r="4.5"/><circle cx="869.3" cy="1186.6" r="4.5"/><circle cx="872.6" cy="1184.1" r="4.5"/><circle cx="875.6" cy="1187.9" r="4.5"/><circle cx="878.1" cy="1186.6" r="4.5"/><circle cx="876.8" cy="1192.9" r="4.5"/><circle cx="879.3" cy="1195.4" r="4.5"/><circle cx="883.1" cy="1196.6" r="4.5"/><circle cx="885.6" cy="1192.9" r="4.5"/><circle cx="887.6" cy="1189.1" r="4.5"/><circle cx="889.3" cy="1185.4" r="4.5"/><circle cx="891.1" cy="1182.4" r="4.5"/><circle cx="890.6" cy="1179.1" r="4.5"/><circle cx="891.3" cy="1175.9" r="4.5"/><circle cx="456.8" cy="722.8" r="4.5"/><circle cx="457.1" cy="721.9" r="4.5"/><circle cx="459" cy="718.8" r="4.5"/><circle cx="457.5" cy="718.3" r="4.5"/><circle cx="458.6" cy="715.5" r="4.5"/><circle cx="458.3" cy="713.6" r="4.5"/><circle cx="461" cy="711.6" r="4.5"/><circle cx="459.5" cy="711.6" r="4.5"/><circle cx="461.4" cy="710.3" r="4.5"/><circle cx="460.6" cy="708.8" r="4.5"/><circle cx="461.3" cy="705.4" r="4.5"/><circle cx="461.2" cy="704.8" r="4.5"/><circle cx="462.2" cy="701.6" r="4.5"/><circle cx="461.2" cy="702.2" r="4.5"/><circle cx="461.4" cy="700.3" r="4.5"/><circle cx="462.5" cy="697.2" r="4.5"/><circle cx="462.7" cy="696.3" r="4.5"/><circle cx="465.2" cy="693.9" r="4.5"/><circle cx="465.5" cy="692.7" r="4.5"/><circle cx="464.3" cy="692.3" r="4.5"/><circle cx="465.4" cy="689.3" r="4.5"/><circle cx="466" cy="689.3" r="4.5"/><circle cx="467.5" cy="687.1" r="4.5"/><circle cx="465.7" cy="686.1" r="4.5"/><circle cx="467.6" cy="684.9" r="4.5"/><circle cx="469.3" cy="681.8" r="4.5"/><circle cx="469.7" cy="681.5" r="4.5"/><circle cx="469" cy="678.8" r="4.5"/><circle cx="470" cy="677.2" r="4.5"/><circle cx="470.8" cy="675" r="4.5"/><circle cx="471.1" cy="675.5" r="4.5"/><circle cx="472.4" cy="673.2" r="4.5"/><circle cx="474.3" cy="672" r="4.5"/><circle cx="473.8" cy="670.7" r="4.5"/><circle cx="476.3" cy="669.2" r="4.5"/><circle cx="477.2" cy="667" r="4.5"/><circle cx="478.7" cy="664.4" r="4.5"/><circle cx="479.5" cy="663.5" r="4.5"/><circle cx="481.2" cy="661.6" r="4.5"/><circle cx="481.7" cy="660.9" r="4.5"/><circle cx="483.7" cy="659.6" r="4.5"/><circle cx="485" cy="659.7" r="4.5"/><circle cx="486.3" cy="656" r="4.5"/><circle cx="487.7" cy="655.7" r="4.5"/><circle cx="488.9" cy="654.8" r="4.5"/><circle cx="489.2" cy="654.7" r="4.5"/><circle cx="492.4" cy="654.3" r="4.5"/><circle cx="493.7" cy="655.8" r="4.5"/><circle cx="496.7" cy="654.7" r="4.5"/><circle cx="497.1" cy="652.1" r="4.5"/><circle cx="499.1" cy="652.1" r="4.5"/><circle cx="501.2" cy="652.5" r="4.5"/><circle cx="504.3" cy="653.1" r="4.5"/><circle cx="504.3" cy="652.6" r="4.5"/><circle cx="506.6" cy="654.9" r="4.5"/><circle cx="506.5" cy="657.3" r="4.5"/><circle cx="508.3" cy="660.4" r="4.5"/><circle cx="507.8" cy="661.2" r="4.5"/><circle cx="510.2" cy="662.5" r="4.5"/><circle cx="511" cy="664.8" r="4.5"/><circle cx="510.3" cy="666.8" r="4.5"/><circle cx="511.8" cy="666.5" r="4.5"/><circle cx="512.3" cy="670.1" r="4.5"/><circle cx="512.5" cy="670.8" r="4.5"/><circle cx="512.7" cy="673.5" r="4.5"/><circle cx="513.8" cy="673.7" r="4.5"/><circle cx="513.5" cy="675.9" r="4.5"/><circle cx="515.6" cy="678.7" r="4.5"/><circle cx="513.9" cy="681.1" r="4.5"/><circle cx="514.1" cy="682.2" r="4.5"/><circle cx="515.6" cy="684.4" r="4.5"/><circle cx="516" cy="684.6" r="4.5"/><circle cx="516.7" cy="688.4" r="4.5"/><circle cx="518" cy="689" r="4.5"/><circle cx="517.1" cy="691.9" r="4.5"/><circle cx="519.2" cy="692.3" r="4.5"/><circle cx="519.8" cy="692.8" r="4.5"/><circle cx="519" cy="689.6" r="4.5"/><circle cx="520.2" cy="689.4" r="4.5"/><circle cx="519.2" cy="686.2" r="4.5"/><circle cx="520" cy="685.7" r="4.5"/><circle cx="520.2" cy="683.3" r="4.5"/><circle cx="521.7" cy="681.7" r="4.5"/><circle cx="521.4" cy="680.6" r="4.5"/><circle cx="524.2" cy="677.7" r="4.5"/><circle cx="524.2" cy="675.2" r="4.5"/><circle cx="525" cy="674.6" r="4.5"/><circle cx="525.1" cy="673.8" r="4.5"/><circle cx="524.6" cy="672.4" r="4.5"/><circle cx="525.9" cy="667.6" r="4.5"/><circle cx="528.5" cy="669" r="4.5"/><circle cx="531.5" cy="668.2" r="4.5"/><circle cx="531.1" cy="670" r="4.5"/><circle cx="531.9" cy="669.8" r="4.5"/><circle cx="532.8" cy="673.3" r="4.5"/><circle cx="531.6" cy="674.7" r="4.5"/><circle cx="530.5" cy="675.7" r="4.5"/><circle cx="530.3" cy="678.2" r="4.5"/><circle cx="529.8" cy="679" r="4.5"/><circle cx="529.7" cy="678.4" r="4.5"/><circle cx="532.6" cy="678.2" r="4.5"/><circle cx="532.4" cy="675.7" r="4.5"/><circle cx="534.2" cy="674.2" r="4.5"/><circle cx="535.7" cy="677.4" r="4.5"/><circle cx="535.9" cy="677.8" r="4.5"/><circle cx="538.5" cy="680.1" r="4.5"/><circle cx="539.7" cy="681.9" r="4.5"/><circle cx="539.4" cy="683.9" r="4.5"/><circle cx="542" cy="683.5" r="4.5"/><circle cx="542.8" cy="686.2" r="4.5"/><circle cx="541.9" cy="687.1" r="4.5"/><circle cx="545" cy="690.5" r="4.5"/><circle cx="543.7" cy="691.6" r="4.5"/><circle cx="545.4" cy="694.7" r="4.5"/><circle cx="545" cy="695.8" r="4.5"/><circle cx="545.2" cy="696.4" r="4.5"/><circle cx="545.4" cy="699" r="4.5"/><circle cx="547" cy="700.8" r="4.5"/><circle cx="546.3" cy="702.2" r="4.5"/><circle cx="546.5" cy="703.7" r="4.5"/><circle cx="547.5" cy="706" r="4.5"/><circle cx="547.6" cy="707.5" r="4.5"/><circle cx="548.7" cy="710.9" r="4.5"/><circle cx="549.2" cy="712.9" r="4.5"/><circle cx="549.6" cy="713.1" r="4.5"/><circle cx="550.2" cy="714.6" r="4.5"/><circle cx="549.3" cy="716.1" r="4.5"/><circle cx="551" cy="720.1" r="4.5"/><circle cx="550.4" cy="720.1" r="4.5"/><circle cx="551" cy="722.1" r="4.5"/><circle cx="485.2" cy="657.6" r="4.5"/><circle cx="487.7" cy="658.1" r="4.5"/><circle cx="488.2" cy="659.7" r="4.5"/><circle cx="491.2" cy="658.1" r="4.5"/><circle cx="493.8" cy="660.6" r="4.5"/><circle cx="494.4" cy="661" r="4.5"/><circle cx="497.7" cy="661" r="4.5"/><circle cx="498.3" cy="660.1" r="4.5"/><circle cx="500.5" cy="660.5" r="4.5"/><circle cx="502.9" cy="660.6" r="4.5"/><circle cx="504.1" cy="658.8" r="4.5"/><circle cx="496.9" cy="663.4" r="4.5"/><circle cx="498.8" cy="666.2" r="4.5"/><circle cx="498.1" cy="667.6" r="4.5"/><circle cx="497.5" cy="670" r="4.5"/><circle cx="497.9" cy="670.5" r="4.5"/><circle cx="423.4" cy="749.9" r="4.5"/><circle cx="422.4" cy="751" r="4.5"/><circle cx="424.2" cy="754.5" r="4.5"/><circle cx="421.8" cy="755.1" r="4.5"/><circle cx="422.9" cy="757.3" r="4.5"/><circle cx="422.5" cy="760.1" r="4.5"/><circle cx="422.4" cy="761" r="4.5"/><circle cx="423.9" cy="763" r="4.5"/><circle cx="425.2" cy="763.5" r="4.5"/><circle cx="425.6" cy="762.7" r="4.5"/><circle cx="427.3" cy="760.2" r="4.5"/><circle cx="426.8" cy="758.9" r="4.5"/><circle cx="427.4" cy="758.8" r="4.5"/><circle cx="428.2" cy="755.3" r="4.5"/><circle cx="428" cy="754.9" r="4.5"/><circle cx="428" cy="752.8" r="4.5"/><circle cx="428" cy="749.7" r="4.5"/><circle cx="428.4" cy="749.5" r="4.5"/><circle cx="429" cy="746.2" r="4.5"/><circle cx="429.1" cy="744.5" r="4.5"/><circle cx="431.9" cy="744.5" r="4.5"/><circle cx="433.3" cy="743.8" r="4.5"/><circle cx="432.7" cy="745.4" r="4.5"/><circle cx="431.8" cy="747.1" r="4.5"/><circle cx="433" cy="746.9" r="4.5"/><circle cx="434.1" cy="750.3" r="4.5"/><circle cx="433.4" cy="749.9" r="4.5"/><circle cx="435" cy="753.3" r="4.5"/><circle cx="434.9" cy="755.8" r="4.5"/><circle cx="434.1" cy="755.3" r="4.5"/><circle cx="434.9" cy="757.1" r="4.5"/><circle cx="437.1" cy="760.5" r="4.5"/><circle cx="436.8" cy="758" r="4.5"/><circle cx="438.2" cy="758" r="4.5"/><circle cx="439.7" cy="757.2" r="4.5"/><circle cx="439.1" cy="755.6" r="4.5"/><circle cx="439.5" cy="752.4" r="4.5"/><circle cx="439.2" cy="750.3" r="4.5"/><circle cx="441.3" cy="750.6" r="4.5"/><circle cx="440.8" cy="746.8" r="4.5"/><circle cx="439.7" cy="745.1" r="4.5"/><circle cx="440.3" cy="744.9" r="4.5"/><circle cx="439.8" cy="742.7" r="4.5"/><circle cx="441.6" cy="739.8" r="4.5"/><circle cx="441.2" cy="740.1" r="4.5"/><circle cx="441.7" cy="737.5" r="4.5"/><circle cx="443.8" cy="739.2" r="4.5"/><circle cx="443.6" cy="739.9" r="4.5"/><circle cx="445.3" cy="742.8" r="4.5"/><circle cx="445.4" cy="743.8" r="4.5"/><circle cx="443.5" cy="744.6" r="4.5"/><circle cx="444.2" cy="747.7" r="4.5"/><circle cx="443.4" cy="749.7" r="4.5"/><circle cx="445.5" cy="750.7" r="4.5"/><circle cx="443.6" cy="753.2" r="4.5"/><circle cx="444.8" cy="754.6" r="4.5"/><circle cx="445.3" cy="756.5" r="4.5"/><circle cx="445.1" cy="758.9" r="4.5"/><circle cx="446.9" cy="760.7" r="4.5"/><circle cx="446.5" cy="761" r="4.5"/><circle cx="446.3" cy="762.7" r="4.5"/><circle cx="448.1" cy="765.9" r="4.5"/><circle cx="448.1" cy="764.4" r="4.5"/><circle cx="449" cy="762.3" r="4.5"/><circle cx="447.6" cy="760.8" r="4.5"/><circle cx="447.8" cy="758.8" r="4.5"/><circle cx="447.8" cy="757.8" r="4.5"/><circle cx="449" cy="754.6" r="4.5"/><circle cx="450.3" cy="752.4" r="4.5"/><circle cx="450.4" cy="752.5" r="4.5"/><circle cx="448.6" cy="750.8" r="4.5"/><circle cx="449.8" cy="749.6" r="4.5"/><circle cx="450" cy="746.6" r="4.5"/><circle cx="451" cy="744.1" r="4.5"/><circle cx="450.7" cy="742.5" r="4.5"/><circle cx="449.6" cy="740.8" r="4.5"/><circle cx="451.3" cy="740" r="4.5"/><circle cx="453.4" cy="738.3" r="4.5"/><circle cx="453.6" cy="741" r="4.5"/><circle cx="452.1" cy="742.3" r="4.5"/><circle cx="453.9" cy="743.3" r="4.5"/><circle cx="453.8" cy="745.2" r="4.5"/><circle cx="453.2" cy="748.6" r="4.5"/><circle cx="454.9" cy="750.5" r="4.5"/><circle cx="453.7" cy="751.1" r="4.5"/><circle cx="454.9" cy="753.3" r="4.5"/><circle cx="454.4" cy="755.4" r="4.5"/><circle cx="454.8" cy="757.3" r="4.5"/><circle cx="455.5" cy="756.9" r="4.5"/><circle cx="456.7" cy="758.8" r="4.5"/><circle cx="457" cy="760.3" r="4.5"/><circle cx="458" cy="759.9" r="4.5"/><circle cx="457.5" cy="757.3" r="4.5"/><circle cx="457.5" cy="756.3" r="4.5"/><circle cx="456.6" cy="755.8" r="4.5"/><circle cx="456.2" cy="753.3" r="4.5"/><circle cx="456.6" cy="752.7" r="4.5"/><circle cx="458.8" cy="749" r="4.5"/><circle cx="457.8" cy="748.5" r="4.5"/><circle cx="458.5" cy="747.5" r="4.5"/><circle cx="457.6" cy="746.4" r="4.5"/><circle cx="457.2" cy="742.7" r="4.5"/><circle cx="458.9" cy="741" r="4.5"/><circle cx="457.3" cy="740.4" r="4.5"/><circle cx="457.7" cy="737.9" r="4.5"/><circle cx="459.3" cy="737.1" r="4.5"/><circle cx="459" cy="734.9" r="4.5"/><circle cx="459.4" cy="733.2" r="4.5"/><circle cx="459.7" cy="736.3" r="4.5"/><circle cx="460.2" cy="738.8" r="4.5"/><circle cx="459.7" cy="740.2" r="4.5"/><circle cx="460.3" cy="741.8" r="4.5"/><circle cx="458.4" cy="744.8" r="4.5"/><circle cx="460.3" cy="746" r="4.5"/><circle cx="460.2" cy="746.6" r="4.5"/><circle cx="459.6" cy="749.9" r="4.5"/><circle cx="460.9" cy="752" r="4.5"/><circle cx="459.8" cy="752.7" r="4.5"/><circle cx="424.4" cy="753.1" r="4.5"/><circle cx="427.3" cy="751.2" r="4.5"/><circle cx="428.2" cy="749.2" r="4.5"/><circle cx="430.8" cy="750.1" r="4.5"/><circle cx="432.2" cy="749.8" r="4.5"/><circle cx="434.6" cy="750" r="4.5"/><circle cx="436.3" cy="747.6" r="4.5"/><circle cx="438.8" cy="747.3" r="4.5"/><circle cx="440.6" cy="748.9" r="4.5"/><circle cx="440.2" cy="747.9" r="4.5"/><circle cx="444" cy="747.4" r="4.5"/><circle cx="444.6" cy="747.2" r="4.5"/><circle cx="444.9" cy="746.9" r="4.5"/><circle cx="446.8" cy="747.1" r="4.5"/><circle cx="449.8" cy="747.8" r="4.5"/><circle cx="452.3" cy="748.1" r="4.5"/><circle cx="452.4" cy="748.8" r="4.5"/><circle cx="454.7" cy="746.9" r="4.5"/><circle cx="456.8" cy="746.4" r="4.5"/><circle cx="457.3" cy="745.2" r="4.5"/><circle cx="553.8" cy="750.4" r="4.5"/><circle cx="553.7" cy="753.3" r="4.5"/><circle cx="553.5" cy="755.2" r="4.5"/><circle cx="553.1" cy="754.5" r="4.5"/><circle cx="554.3" cy="756.9" r="4.5"/><circle cx="556.1" cy="757" r="4.5"/><circle cx="558.8" cy="758.7" r="4.5"/><circle cx="560.3" cy="759.7" r="4.5"/><circle cx="563" cy="759.4" r="4.5"/><circle cx="560.9" cy="758.9" r="4.5"/><circle cx="557.8" cy="761.2" r="4.5"/><circle cx="558.9" cy="762.2" r="4.5"/><circle cx="556.5" cy="762.7" r="4.5"/><circle cx="554.7" cy="766.2" r="4.5"/><circle cx="556.5" cy="767.3" r="4.5"/><circle cx="556.4" cy="766.9" r="4.5"/><circle cx="558.2" cy="769.8" r="4.5"/><circle cx="559.3" cy="771.3" r="4.5"/><circle cx="561.1" cy="772.4" r="4.5"/><circle cx="560.2" cy="771.9" r="4.5"/><circle cx="559.8" cy="773.1" r="4.5"/><circle cx="557.5" cy="773.1" r="4.5"/><circle cx="556.3" cy="776.5" r="4.5"/><circle cx="556" cy="776.5" r="4.5"/><circle cx="558" cy="775.5" r="4.5"/><circle cx="559.8" cy="777.5" r="4.5"/><circle cx="562.9" cy="779" r="4.5"/><circle cx="561.8" cy="779.5" r="4.5"/><circle cx="559.8" cy="779.8" r="4.5"/><circle cx="558.9" cy="782.3" r="4.5"/><circle cx="556.7" cy="784.8" r="4.5"/><circle cx="555.3" cy="784.3" r="4.5"/><circle cx="556.3" cy="785.6" r="4.5"/><circle cx="558.7" cy="788.5" r="4.5"/><circle cx="558.8" cy="789" r="4.5"/><circle cx="561.2" cy="790.4" r="4.5"/><circle cx="559.9" cy="791.8" r="4.5"/><circle cx="558" cy="792.1" r="4.5"/><circle cx="558.2" cy="794" r="4.5"/><circle cx="558.2" cy="795.6" r="4.5"/><circle cx="557.6" cy="797.1" r="4.5"/><circle cx="556.3" cy="799.3" r="4.5"/><circle cx="557.7" cy="800.5" r="4.5"/><circle cx="559.4" cy="801.8" r="4.5"/><circle cx="559.8" cy="805" r="4.5"/><circle cx="560" cy="805.7" r="4.5"/><circle cx="558.3" cy="770.2" r="4.5"/><circle cx="559.6" cy="772.1" r="4.5"/><circle cx="557.6" cy="772.4" r="4.5"/><circle cx="557.4" cy="774.8" r="4.5"/><circle cx="557.4" cy="777.3" r="4.5"/><circle cx="558.3" cy="778" r="4.5"/><circle cx="558.5" cy="781.3" r="4.5"/><circle cx="557.8" cy="781" r="4.5"/><circle cx="558" cy="783.1" r="4.5"/><circle cx="559.5" cy="785.8" r="4.5"/><circle cx="558.3" cy="786" r="4.5"/><circle cx="557.3" cy="787.6" r="4.5"/><circle cx="559.4" cy="790.6" r="4.5"/><circle cx="557.6" cy="792.2" r="4.5"/><circle cx="557.3" cy="793.6" r="4.5"/><circle cx="558" cy="794.2" r="4.5"/><circle cx="559.1" cy="797.5" r="4.5"/><circle cx="558.5" cy="797.7" r="4.5"/><circle cx="558.5" cy="800.2" r="4.5"/><circle cx="572.2" cy="746.2" r="4.5"/><circle cx="574" cy="746" r="4.5"/><circle cx="576.5" cy="746.4" r="4.5"/><circle cx="576.3" cy="748" r="4.5"/><circle cx="577.7" cy="747.8" r="4.5"/><circle cx="577.6" cy="751.4" r="4.5"/><circle cx="575.2" cy="750.8" r="4.5"/><circle cx="574.7" cy="751.9" r="4.5"/><circle cx="574.9" cy="755.3" r="4.5"/><circle cx="576" cy="756.9" r="4.5"/><circle cx="595.3" cy="774.3" r="4.5"/><circle cx="595.7" cy="777.2" r="4.5"/><circle cx="599.3" cy="780.1" r="4.5"/><circle cx="597.6" cy="780.5" r="4.5"/><circle cx="599.2" cy="781.3" r="4.5"/><circle cx="600.3" cy="783.6" r="4.5"/><circle cx="601.3" cy="784.7" r="4.5"/><circle cx="603.2" cy="787.3" r="4.5"/><circle cx="603.5" cy="786.8" r="4.5"/><circle cx="603.3" cy="788.4" r="4.5"/><circle cx="603.7" cy="791.6" r="4.5"/><circle cx="603.2" cy="794" r="4.5"/><circle cx="602.5" cy="795.2" r="4.5"/><circle cx="605.1" cy="795.5" r="4.5"/><circle cx="604.4" cy="797.2" r="4.5"/><circle cx="605.7" cy="800.8" r="4.5"/><circle cx="605.6" cy="802.4" r="4.5"/><circle cx="606" cy="804.1" r="4.5"/><circle cx="606.2" cy="806.5" r="4.5"/><circle cx="607.1" cy="805.8" r="4.5"/><circle cx="606.6" cy="809.6" r="4.5"/><circle cx="609" cy="811.2" r="4.5"/><circle cx="607.6" cy="813.7" r="4.5"/><circle cx="609.6" cy="813.6" r="4.5"/><circle cx="609.2" cy="817" r="4.5"/><circle cx="608.7" cy="817.2" r="4.5"/><circle cx="610.2" cy="821.2" r="4.5"/><circle cx="612.3" cy="821.4" r="4.5"/><circle cx="612.6" cy="824.1" r="4.5"/><circle cx="613" cy="825.2" r="4.5"/><circle cx="613.8" cy="826.9" r="4.5"/><circle cx="613.5" cy="828.8" r="4.5"/><circle cx="611.3" cy="830.8" r="4.5"/><circle cx="611.7" cy="832.4" r="4.5"/><circle cx="612.1" cy="834.7" r="4.5"/><circle cx="613.3" cy="835.8" r="4.5"/><circle cx="613.1" cy="838.4" r="4.5"/><circle cx="614.3" cy="840.1" r="4.5"/><circle cx="616.6" cy="840.7" r="4.5"/><circle cx="618.1" cy="842.2" r="4.5"/><circle cx="620.6" cy="844.6" r="4.5"/><circle cx="622.5" cy="845.4" r="4.5"/><circle cx="620.3" cy="848.1" r="4.5"/><circle cx="620.2" cy="848.3" r="4.5"/><circle cx="618.8" cy="850.1" r="4.5"/><circle cx="621.1" cy="852.8" r="4.5"/><circle cx="621.8" cy="854.3" r="4.5"/><circle cx="622.3" cy="855.2" r="4.5"/><circle cx="623.5" cy="856.5" r="4.5"/><circle cx="624.4" cy="859.3" r="4.5"/><circle cx="626.2" cy="859.6" r="4.5"/><circle cx="624.5" cy="862.7" r="4.5"/><circle cx="625.1" cy="864.1" r="4.5"/><circle cx="624.7" cy="865.8" r="4.5"/><circle cx="625" cy="865.9" r="4.5"/><circle cx="626.5" cy="867.5" r="4.5"/><circle cx="629.3" cy="870.4" r="4.5"/><circle cx="628.9" cy="873.2" r="4.5"/><circle cx="629.7" cy="873" r="4.5"/><circle cx="628.9" cy="874.3" r="4.5"/><circle cx="631.3" cy="877.6" r="4.5"/><circle cx="631.8" cy="878.4" r="4.5"/><circle cx="632.5" cy="880.3" r="4.5"/><circle cx="635.5" cy="882.4" r="4.5"/><circle cx="636.8" cy="882.4" r="4.5"/><circle cx="637.7" cy="891.3" r="4.5"/><circle cx="637.1" cy="891.8" r="4.5"/><circle cx="637.2" cy="894.9" r="4.5"/><circle cx="637.3" cy="894.5" r="4.5"/><circle cx="638.3" cy="898.1" r="4.5"/><circle cx="640.7" cy="898.3" r="4.5"/><circle cx="641.5" cy="901.4" r="4.5"/><circle cx="641" cy="901.5" r="4.5"/><circle cx="642.5" cy="903.8" r="4.5"/><circle cx="643.1" cy="901.6" r="4.5"/><circle cx="378" cy="852.6" r="4.5"/><circle cx="379.2" cy="849.2" r="4.5"/><circle cx="380" cy="846.8" r="4.5"/><circle cx="378.9" cy="845" r="4.5"/><circle cx="380.3" cy="842.4" r="4.5"/><circle cx="380.7" cy="842.6" r="4.5"/><circle cx="381" cy="840.8" r="4.5"/><circle cx="382.4" cy="837.6" r="4.5"/><circle cx="381.5" cy="837" r="4.5"/><circle cx="384.5" cy="836" r="4.5"/><circle cx="345.4" cy="931.2" r="4.5"/><circle cx="343.8" cy="934.4" r="4.5"/><circle cx="345" cy="934.5" r="4.5"/><circle cx="343.6" cy="937.1" r="4.5"/><circle cx="342.3" cy="937.5" r="4.5"/><circle cx="341.7" cy="940.8" r="4.5"/><circle cx="342.7" cy="942.3" r="4.5"/><circle cx="341.8" cy="943.4" r="4.5"/><circle cx="342.6" cy="945.7" r="4.5"/><circle cx="341.4" cy="948.2" r="4.5"/><circle cx="339.4" cy="949.5" r="4.5"/><circle cx="338.4" cy="950.3" r="4.5"/><circle cx="337.1" cy="950.8" r="4.5"/><circle cx="336.1" cy="950.5" r="4.5"/><circle cx="339.1" cy="952.9" r="4.5"/><circle cx="339.6" cy="953.3" r="4.5"/><circle cx="342.1" cy="954.2" r="4.5"/><circle cx="339.8" cy="954.2" r="4.5"/><circle cx="339.1" cy="956.3" r="4.5"/><circle cx="339.4" cy="958.4" r="4.5"/><circle cx="337.7" cy="958.7" r="4.5"/><circle cx="336.4" cy="960.5" r="4.5"/><circle cx="658.9" cy="929.4" r="4.5"/><circle cx="657.7" cy="933.3" r="4.5"/><circle cx="658.6" cy="934.9" r="4.5"/>
</g>
<line x1="108.7" y1="968" x2="929" y2="968" stroke="#000" stroke-width="5.5" stroke-dasharray="16.3 18.75"/>
<line x1="108" y1="649.5" x2="108" y2="1233.9" stroke="#000" stroke-width="3.8"/>
<line x1="106.1" y1="1232" x2="914.4" y2="1232" stroke="#000" stroke-width="3.9"/>
<line x1="98.1" y1="681.8" x2="108" y2="681.8" stroke="#000" stroke-width="4"/>
<text x="67.5" y="693" font-size="32.3" text-anchor="middle" fill="#000">600</text>
<line x1="98.1" y1="856.1" x2="108" y2="856.1" stroke="#000" stroke-width="4"/>
<text x="67.5" y="867.3" font-size="32.3" text-anchor="middle" fill="#000">400</text>
<line x1="98.1" y1="1029.4" x2="108" y2="1029.4" stroke="#000" stroke-width="4"/>
<text x="67.5" y="1040.6" font-size="32.3" text-anchor="middle" fill="#000">200</text>
<line x1="98.1" y1="1204.2" x2="108" y2="1204.2" stroke="#000" stroke-width="4"/>
<text x="71.8" y="1215.4" font-size="32.3" text-anchor="middle" fill="#000">0</text>
<line x1="141.9" y1="1232" x2="141.9" y2="1251.3" stroke="#000" stroke-width="3.9"/>
<line x1="180.4" y1="1232" x2="180.4" y2="1242.9" stroke="#000" stroke-width="3.9"/>
<line x1="218.9" y1="1232" x2="218.9" y2="1242.9" stroke="#000" stroke-width="3.9"/>
<line x1="257.3" y1="1232" x2="257.3" y2="1242.9" stroke="#000" stroke-width="3.9"/>
<line x1="295.8" y1="1232" x2="295.8" y2="1242.9" stroke="#000" stroke-width="3.9"/>
<line x1="334.3" y1="1232" x2="334.3" y2="1242.9" stroke="#000" stroke-width="3.9"/>
<line x1="372.8" y1="1232" x2="372.8" y2="1242.9" stroke="#000" stroke-width="3.9"/>
<line x1="411.2" y1="1232" x2="411.2" y2="1242.9" stroke="#000" stroke-width="3.9"/>
<line x1="449.7" y1="1232" x2="449.7" y2="1242.9" stroke="#000" stroke-width="3.9"/>
<line x1="488.2" y1="1232" x2="488.2" y2="1242.9" stroke="#000" stroke-width="3.9"/>
<line x1="526.6" y1="1232" x2="526.6" y2="1242.9" stroke="#000" stroke-width="3.9"/>
<line x1="565.1" y1="1232" x2="565.1" y2="1242.9" stroke="#000" stroke-width="3.9"/>
<line x1="603.6" y1="1232" x2="603.6" y2="1242.9" stroke="#000" stroke-width="3.9"/>
<line x1="642.1" y1="1232" x2="642.1" y2="1242.9" stroke="#000" stroke-width="3.9"/>
<line x1="680.5" y1="1232" x2="680.5" y2="1242.9" stroke="#000" stroke-width="3.9"/>
<line x1="719" y1="1232" x2="719" y2="1242.9" stroke="#000" stroke-width="3.9"/>
<line x1="757.5" y1="1232" x2="757.5" y2="1242.9" stroke="#000" stroke-width="3.9"/>
<line x1="796" y1="1232" x2="796" y2="1242.9" stroke="#000" stroke-width="3.9"/>
<line x1="834.5" y1="1232" x2="834.5" y2="1242.9" stroke="#000" stroke-width="3.9"/>
<line x1="872.9" y1="1232" x2="872.9" y2="1242.9" stroke="#000" stroke-width="3.9"/>
<line x1="911.4" y1="1232" x2="911.4" y2="1251.3" stroke="#000" stroke-width="3.9"/>
<text x="80.6" y="1292.6" font-size="32.5" text-anchor="start" fill="#000">16.4 Mb</text>
<text x="850.6" y="1292.6" font-size="32.5" text-anchor="start" fill="#000">16.5 Mb</text>
<text x="254" y="1191.1" font-size="28.2" text-anchor="start" fill="#000">SS3</text>
<text x="319.1" y="1191.1" font-size="28.4" text-anchor="start" fill="#000">CYP71C4</text>
<text x="593.5" y="1191.1" font-size="27.6" text-anchor="start" fill="#000">RPM1</text>
<g transform="translate(38.4 964) rotate(-90)"><text x="0" y="0" font-size="44.5" font-style="italic">B<tspan font-size="25" font-style="normal" dy="14.6" dx="-3.3">2</tspan></text></g>
</g>
<g id="panel-c">
<text x="939" y="681.3" font-size="46" text-anchor="start" fill="#000">c</text>
<g stroke="#7F7F7F" stroke-width="2.9">
<line x1="1064.7" y1="848.7" x2="1064.7" y2="1119.3"/><line x1="1066" y1="847.3" x2="1066" y2="1119.3"/><line x1="1066.8" y1="842.1" x2="1066.8" y2="1119.3"/><line x1="1067.1" y1="853.9" x2="1067.1" y2="1119.3"/><line x1="1068" y1="848" x2="1068" y2="1119.3"/><line x1="1078.6" y1="846.7" x2="1078.6" y2="1119.3"/><line x1="1082.2" y1="843.4" x2="1082.2" y2="1119.3"/><line x1="1083.5" y1="844.7" x2="1083.5" y2="1119.3"/><line x1="1089.4" y1="843.4" x2="1089.4" y2="1119.3"/><line x1="1090.7" y1="846" x2="1090.7" y2="1119.3"/><line x1="1095.3" y1="846.7" x2="1095.3" y2="1119.3"/><line x1="1105.8" y1="844.7" x2="1105.8" y2="1119.3"/><line x1="1105.8" y1="862.5" x2="1105.8" y2="1119.3"/><line x1="1112.8" y1="855.9" x2="1112.8" y2="1119.3"/><line x1="1113.7" y1="857.5" x2="1113.7" y2="1119.3"/><line x1="1120.3" y1="852.6" x2="1120.3" y2="1119.3"/><line x1="1122.3" y1="855.9" x2="1122.3" y2="1119.3"/><line x1="1124.9" y1="849.3" x2="1124.9" y2="1119.3"/><line x1="1127.5" y1="846" x2="1127.5" y2="1119.3"/><line x1="1128.8" y1="846.7" x2="1128.8" y2="1119.3"/><line x1="1132.8" y1="844.7" x2="1132.8" y2="1119.3"/><line x1="1134.8" y1="843.4" x2="1134.8" y2="1119.3"/><line x1="1165.4" y1="851" x2="1165.4" y2="1119.3"/><line x1="1172.5" y1="855" x2="1172.5" y2="1119.3"/><line x1="1177.2" y1="866.4" x2="1177.2" y2="1119.3"/><line x1="1179.4" y1="864.4" x2="1179.4" y2="1119.3"/><line x1="1185.1" y1="859.4" x2="1185.1" y2="1119.3"/><line x1="1191.9" y1="873.6" x2="1191.9" y2="1119.3"/><line x1="1194.2" y1="878.6" x2="1194.2" y2="1119.3"/><line x1="1194.2" y1="878.6" x2="1194.2" y2="1119.3"/><line x1="1207.7" y1="846.7" x2="1207.7" y2="1119.3"/><line x1="1211.6" y1="847.1" x2="1211.6" y2="1119.3"/><line x1="1233" y1="927.2" x2="1233" y2="1119.3"/><line x1="1238.8" y1="893.3" x2="1238.8" y2="1119.3"/><line x1="1240.3" y1="880.8" x2="1240.3" y2="1119.3"/><line x1="1256.3" y1="844.4" x2="1256.3" y2="1119.3"/><line x1="1257.9" y1="846" x2="1257.9" y2="1119.3"/><line x1="1266.8" y1="846.7" x2="1266.8" y2="1119.3"/><line x1="1276.7" y1="844.1" x2="1276.7" y2="1119.3"/><line x1="1279.7" y1="843.1" x2="1279.7" y2="1119.3"/><line x1="1284.6" y1="848.7" x2="1284.6" y2="1119.3"/><line x1="1294.2" y1="841.4" x2="1294.2" y2="1119.3"/><line x1="1302" y1="842.7" x2="1302" y2="1119.3"/><line x1="1303" y1="843.4" x2="1303" y2="1119.3"/><line x1="1331.9" y1="842.1" x2="1331.9" y2="1119.3"/><line x1="1349.3" y1="842.1" x2="1349.3" y2="1119.3"/><line x1="1360.1" y1="841.8" x2="1360.1" y2="1119.3"/><line x1="1372.9" y1="842.7" x2="1372.9" y2="1119.3"/><line x1="1375.2" y1="842.7" x2="1375.2" y2="1119.3"/><line x1="1403.4" y1="841" x2="1403.4" y2="1119.3"/><line x1="1403.4" y1="841.3" x2="1403.4" y2="1119.3"/><line x1="1426.8" y1="845" x2="1426.8" y2="1119.3"/><line x1="1430.4" y1="850" x2="1430.4" y2="1119.3"/><line x1="1431.4" y1="846" x2="1431.4" y2="1119.3"/><line x1="1437.7" y1="844.7" x2="1437.7" y2="1119.3"/><line x1="1445.2" y1="843.4" x2="1445.2" y2="1119.3"/><line x1="1452.4" y1="845" x2="1452.4" y2="1119.3"/><line x1="1468.2" y1="839.2" x2="1468.2" y2="1119.3"/><line x1="1474.1" y1="838.5" x2="1474.1" y2="1119.3"/><line x1="1484" y1="840.5" x2="1484" y2="1119.3"/><line x1="1526.7" y1="853.3" x2="1526.7" y2="1119.3"/><line x1="1527.1" y1="853.3" x2="1527.1" y2="1119.3"/><line x1="1531.5" y1="847.3" x2="1531.5" y2="1119.3"/><line x1="1535.2" y1="844.7" x2="1535.2" y2="1119.3"/><line x1="1537.2" y1="842.3" x2="1537.2" y2="1119.3"/><line x1="1536.5" y1="843.4" x2="1536.5" y2="1119.3"/><line x1="1557.2" y1="844.1" x2="1557.2" y2="1119.3"/><line x1="1560.5" y1="844.1" x2="1560.5" y2="1119.3"/><line x1="1566.4" y1="844.4" x2="1566.4" y2="1119.3"/><line x1="1569.7" y1="845.4" x2="1569.7" y2="1119.3"/><line x1="1572.3" y1="844.7" x2="1572.3" y2="1119.3"/><line x1="1569.1" y1="859.2" x2="1569.1" y2="1119.3"/><line x1="1571.7" y1="861.1" x2="1571.7" y2="1119.3"/><line x1="1573.4" y1="865.1" x2="1573.4" y2="1119.3"/><line x1="1584.8" y1="844.7" x2="1584.8" y2="1119.3"/><line x1="1584.2" y1="851.9" x2="1584.2" y2="1119.3"/><line x1="1592.3" y1="843.1" x2="1592.3" y2="1119.3"/><line x1="1610.1" y1="843.4" x2="1610.1" y2="1119.3"/><line x1="1677.1" y1="844.1" x2="1677.1" y2="1119.3"/><line x1="1713.3" y1="841.8" x2="1713.3" y2="1119.3"/><line x1="1713.3" y1="848.4" x2="1713.3" y2="1119.3"/><line x1="1745.8" y1="842.1" x2="1745.8" y2="1119.3"/><line x1="1748.8" y1="839.2" x2="1748.8" y2="1119.3"/><line x1="1747.8" y1="841.4" x2="1747.8" y2="1119.3"/><line x1="1770.8" y1="840.1" x2="1770.8" y2="1119.3"/><line x1="1774.3" y1="840.8" x2="1774.3" y2="1119.3"/><line x1="1773.4" y1="841.4" x2="1773.4" y2="1119.3"/><line x1="1795.1" y1="842.1" x2="1795.1" y2="1119.3"/><line x1="1628.2" y1="1080" x2="1628.2" y2="1119.3"/><line x1="1630.6" y1="1080" x2="1630.6" y2="1119.3"/>
</g>
<rect x="1057.1" y="1119.1" width="57.7" height="62.3" fill="#A855FF"/>
<rect x="1114.6" y="1119.1" width="322.1" height="62.3" fill="#EBCBAC"/>
<rect x="1459.7" y="1119.1" width="100.1" height="62.3" fill="#EBCBAC"/>
<rect x="1644.4" y="1119.1" width="184.7" height="62.3" fill="#EBCBAC"/>
<line x1="1436.7" y1="1151.9" x2="1459.7" y2="1151.9" stroke="#000" stroke-width="4"/>
<line x1="1559.8" y1="1151.9" x2="1644.4" y2="1151.9" stroke="#000" stroke-width="4"/>
<rect x="1397.4" y="1131.3" width="39.3" height="37.6" fill="#FF0000"/>
<rect x="1459.7" y="1131.3" width="61.3" height="37.6" fill="#FF0000"/>
<rect x="1544.8" y="1131.3" width="15" height="37.6" fill="#FF0000"/>
<rect x="1644.4" y="1131.3" width="88.3" height="37.6" fill="#FF0000"/>
<rect x="1777" y="1131.3" width="45.8" height="37.6" fill="#0560C2"/>
<path d="M1841.8 1142.1V1208.3H1716" fill="none" stroke="#000" stroke-width="4" stroke-linejoin="miter"/>
<path d="M1686.9 1208.4L1724.5 1188.1L1718.2 1208.4L1724.5 1228.9Z" fill="#000"/>
<g fill-opacity="0.75">
<circle cx="1064.7" cy="848.7" r="5.8" fill="#8E3F9D"/><circle cx="1066" cy="847.3" r="5.8" fill="#8E3F9D"/><circle cx="1066.8" cy="842.1" r="5.8" fill="#8E3F9D"/><circle cx="1067.1" cy="853.9" r="5.8" fill="#8E3F9D"/><circle cx="1068" cy="848" r="5.8" fill="#8E3F9D"/><circle cx="1078.6" cy="846.7" r="5.8" fill="#8E3F9D"/><circle cx="1082.2" cy="843.4" r="5.8" fill="#8E3F9D"/><circle cx="1083.5" cy="844.7" r="5.8" fill="#8E3F9D"/><circle cx="1089.4" cy="843.4" r="5.8" fill="#8E3F9D"/><circle cx="1090.7" cy="846" r="5.8" fill="#8E3F9D"/><circle cx="1095.3" cy="846.7" r="5.8" fill="#8E3F9D"/><circle cx="1105.8" cy="844.7" r="5.8" fill="#8E3F9D"/><circle cx="1105.8" cy="862.5" r="5.8" fill="#8E3F9D"/><circle cx="1112.8" cy="855.9" r="5.8" fill="#377EB8"/><circle cx="1113.7" cy="857.5" r="5.8" fill="#E41A1C"/><circle cx="1120.3" cy="852.6" r="5.8" fill="#4DAF4A"/><circle cx="1122.3" cy="855.9" r="5.8" fill="#4DAF4A"/><circle cx="1124.9" cy="849.3" r="5.8" fill="#4DAF4A"/><circle cx="1127.5" cy="846" r="5.8" fill="#4DAF4A"/><circle cx="1128.8" cy="846.7" r="5.8" fill="#4DAF4A"/><circle cx="1132.8" cy="844.7" r="5.8" fill="#377EB8"/><circle cx="1134.8" cy="843.4" r="5.8" fill="#377EB8"/><circle cx="1165.4" cy="851" r="5.8" fill="#377EB8"/><circle cx="1172.5" cy="855" r="5.8" fill="#4DAF4A"/><circle cx="1177.2" cy="866.4" r="5.8" fill="#4DAF4A"/><circle cx="1179.4" cy="864.4" r="5.8" fill="#4DAF4A"/><circle cx="1185.1" cy="859.4" r="5.8" fill="#377EB8"/><circle cx="1191.9" cy="873.6" r="5.8" fill="#4DAF4A"/><circle cx="1194.2" cy="878.6" r="5.8" fill="#377EB8"/><circle cx="1194.2" cy="878.6" r="5.8" fill="#4DAF4A"/><circle cx="1207.7" cy="846.7" r="5.8" fill="#4DAF4A"/><circle cx="1211.6" cy="847.1" r="5.8" fill="#377EB8"/><circle cx="1233" cy="927.2" r="5.8" fill="#4DAF4A"/><circle cx="1238.8" cy="893.3" r="5.8" fill="#4DAF4A"/><circle cx="1240.3" cy="880.8" r="5.8" fill="#4DAF4A"/><circle cx="1256.3" cy="844.4" r="5.8" fill="#377EB8"/><circle cx="1257.9" cy="846" r="5.8" fill="#4DAF4A"/><circle cx="1266.8" cy="846.7" r="5.8" fill="#377EB8"/><circle cx="1276.7" cy="844.1" r="5.8" fill="#4DAF4A"/><circle cx="1279.7" cy="843.1" r="5.8" fill="#377EB8"/><circle cx="1284.6" cy="848.7" r="5.8" fill="#377EB8"/><circle cx="1294.2" cy="841.4" r="5.8" fill="#377EB8"/><circle cx="1302" cy="842.7" r="5.8" fill="#4DAF4A"/><circle cx="1303" cy="843.4" r="5.8" fill="#4DAF4A"/><circle cx="1331.9" cy="842.1" r="5.8" fill="#4DAF4A"/><circle cx="1349.3" cy="842.1" r="5.8" fill="#4DAF4A"/><circle cx="1360.1" cy="841.8" r="5.8" fill="#377EB8"/><circle cx="1372.9" cy="842.7" r="5.8" fill="#377EB8"/><circle cx="1375.2" cy="842.7" r="5.8" fill="#4DAF4A"/><circle cx="1403.4" cy="841" r="5.8" fill="#377EB8"/><circle cx="1403.4" cy="841.3" r="5.8" fill="#377EB8"/><circle cx="1426.8" cy="845" r="5.8" fill="#4DAF4A"/><circle cx="1430.4" cy="850" r="5.8" fill="#4DAF4A"/><circle cx="1431.4" cy="846" r="5.8" fill="#4DAF4A"/><circle cx="1437.7" cy="844.7" r="5.8" fill="#8E3F9D"/><circle cx="1445.2" cy="843.4" r="5.8" fill="#8E3F9D"/><circle cx="1452.4" cy="845" r="5.8" fill="#8E3F9D"/><circle cx="1468.2" cy="839.2" r="5.8" fill="#4DAF4A"/><circle cx="1474.1" cy="838.5" r="5.8" fill="#377EB8"/><circle cx="1484" cy="840.5" r="5.8" fill="#377EB8"/><circle cx="1526.7" cy="853.3" r="5.8" fill="#377EB8"/><circle cx="1527.1" cy="853.3" r="5.8" fill="#4DAF4A"/><circle cx="1531.5" cy="847.3" r="5.8" fill="#377EB8"/><circle cx="1535.2" cy="844.7" r="5.8" fill="#4DAF4A"/><circle cx="1537.2" cy="842.3" r="5.8" fill="#377EB8"/><circle cx="1536.5" cy="843.4" r="5.8" fill="#377EB8"/><circle cx="1557.2" cy="844.1" r="5.8" fill="#4DAF4A"/><circle cx="1560.5" cy="844.1" r="5.8" fill="#8E3F9D"/><circle cx="1566.4" cy="844.4" r="5.8" fill="#8E3F9D"/><circle cx="1569.7" cy="845.4" r="5.8" fill="#8E3F9D"/><circle cx="1572.3" cy="844.7" r="5.8" fill="#8E3F9D"/><circle cx="1569.1" cy="859.2" r="5.8" fill="#8E3F9D"/><circle cx="1571.7" cy="861.1" r="5.8" fill="#8E3F9D"/><circle cx="1573.4" cy="865.1" r="5.8" fill="#8E3F9D"/><circle cx="1584.8" cy="844.7" r="5.8" fill="#8E3F9D"/><circle cx="1584.2" cy="851.9" r="5.8" fill="#8E3F9D"/><circle cx="1592.3" cy="843.1" r="5.8" fill="#8E3F9D"/><circle cx="1610.1" cy="843.4" r="5.8" fill="#8E3F9D"/><circle cx="1677.1" cy="844.1" r="5.8" fill="#377EB8"/><circle cx="1713.3" cy="841.8" r="5.8" fill="#4DAF4A"/><circle cx="1713.3" cy="848.4" r="5.8" fill="#4DAF4A"/><circle cx="1745.8" cy="842.1" r="5.8" fill="#4DAF4A"/><circle cx="1748.8" cy="839.2" r="5.8" fill="#377EB8"/><circle cx="1747.8" cy="841.4" r="5.8" fill="#377EB8"/><circle cx="1770.8" cy="840.1" r="5.8" fill="#377EB8"/><circle cx="1774.3" cy="840.8" r="5.8" fill="#4DAF4A"/><circle cx="1773.4" cy="841.4" r="5.8" fill="#4DAF4A"/><circle cx="1795.1" cy="842.1" r="5.8" fill="#377EB8"/><circle cx="1628.2" cy="1080" r="5.8" fill="#8E3F9D"/><circle cx="1630.6" cy="1080" r="5.8" fill="#8E3F9D"/>
</g>
<line x1="1049.3" y1="824.1" x2="1049.3" y2="1120.4" stroke="#000" stroke-width="4.2"/>
<line x1="1037.4" y1="838.3" x2="1047.4" y2="838.3" stroke="#333333" stroke-width="4.5"/>
<text x="1026.8" y="846.9" font-size="24" text-anchor="end" fill="#000">100</text>
<line x1="1037.4" y1="908.3" x2="1047.4" y2="908.3" stroke="#333333" stroke-width="4.5"/>
<text x="1031.9" y="916.9" font-size="24" text-anchor="end" fill="#000">75</text>
<line x1="1037.4" y1="978.3" x2="1047.4" y2="978.3" stroke="#333333" stroke-width="4.5"/>
<text x="1031.9" y="986.9" font-size="24" text-anchor="end" fill="#000">50</text>
<line x1="1037.4" y1="1048.3" x2="1047.4" y2="1048.3" stroke="#333333" stroke-width="4.5"/>
<text x="1032.3" y="1056.9" font-size="24" text-anchor="end" fill="#000">25</text>
<line x1="1037.4" y1="1118.3" x2="1047.4" y2="1118.3" stroke="#333333" stroke-width="4.5"/>
<text x="1036" y="1126.9" font-size="24" text-anchor="end" fill="#000">0</text>
<line x1="1017" y1="1234.7" x2="1866.4" y2="1234.7" stroke="#000" stroke-width="3.6"/>
<line x1="1160.7" y1="1234.7" x2="1160.7" y2="1245.7" stroke="#333333" stroke-width="4"/>
<text x="1146.4" y="1282.2" font-size="32.6" text-anchor="middle" fill="#000">16461000</text>
<line x1="1333.6" y1="1234.7" x2="1333.6" y2="1245.7" stroke="#333333" stroke-width="4"/>
<text x="1324.1" y="1282.2" font-size="32.6" text-anchor="middle" fill="#000">16462000</text>
<line x1="1506.8" y1="1234.7" x2="1506.8" y2="1245.7" stroke="#333333" stroke-width="4"/>
<text x="1493" y="1282.2" font-size="32.6" text-anchor="middle" fill="#000">16463000</text>
<line x1="1680.4" y1="1234.7" x2="1680.4" y2="1245.7" stroke="#333333" stroke-width="4"/>
<text x="1670.3" y="1282.2" font-size="32.6" text-anchor="middle" fill="#000">16464000</text>
<line x1="1853.6" y1="1234.7" x2="1853.6" y2="1245.7" stroke="#333333" stroke-width="4"/>
<text x="1844.4" y="1282.2" font-size="32.6" text-anchor="middle" fill="#000">16465000</text>
<g transform="translate(982.1 1210) rotate(-90)"><text x="0" y="0" font-size="24.75">Percent of heterozygous genotypes (%)</text></g>
<circle cx="1301.3" cy="762.7" r="8.5" fill="#E41A1C" fill-opacity="0.78"/>
<circle cx="1301.3" cy="802.3" r="8.5" fill="#4DAF4A" fill-opacity="0.75"/>
<circle cx="1508.5" cy="763.1" r="8.5" fill="#377EB8" fill-opacity="0.75"/>
<circle cx="1641.5" cy="802.1" r="8.5" fill="#984EA3" fill-opacity="0.8"/>
<text x="1317.6" y="768.8" font-size="20.5" text-anchor="start" fill="#000">HIGH</text>
<text x="1317.6" y="807.8" font-size="20.5" text-anchor="start" fill="#000">NON-SYNONYMOUS CODING</text>
<text x="1523.8" y="768.9" font-size="20.5" text-anchor="start" fill="#000">SYNONYMOUS CODING</text>
<text x="1655.2" y="808.1" font-size="20.5" text-anchor="start" fill="#000">MODIFIER</text>
<rect x="1831.7" y="846.4" width="58.6" height="34.6" fill="#EBCBAC"/>
<text x="1906.1" y="867.7" font-size="24" text-anchor="start" fill="#000">exon</text>
<rect x="1831.7" y="898.3" width="58.6" height="35" fill="#A855FF"/>
<text x="1906.1" y="924.8" font-size="24" text-anchor="start" fill="#000">UTR</text>
<text x="1841.5" y="987.9" font-size="32.4" text-anchor="start" fill="#000">domain</text>
<rect x="1838" y="1005.9" width="46.8" height="28.8" fill="#0560C2"/>
<text x="1891.6" y="1032.9" font-size="24" text-anchor="start" fill="#000">coiled coil</text>
<rect x="1837.8" y="1055.5" width="46.8" height="28.8" fill="#FF0000"/>
<text x="1891.4" y="1078.8" font-size="24" text-anchor="start" fill="#000">NB-ARC</text>
</g>
</svg></body></html>
